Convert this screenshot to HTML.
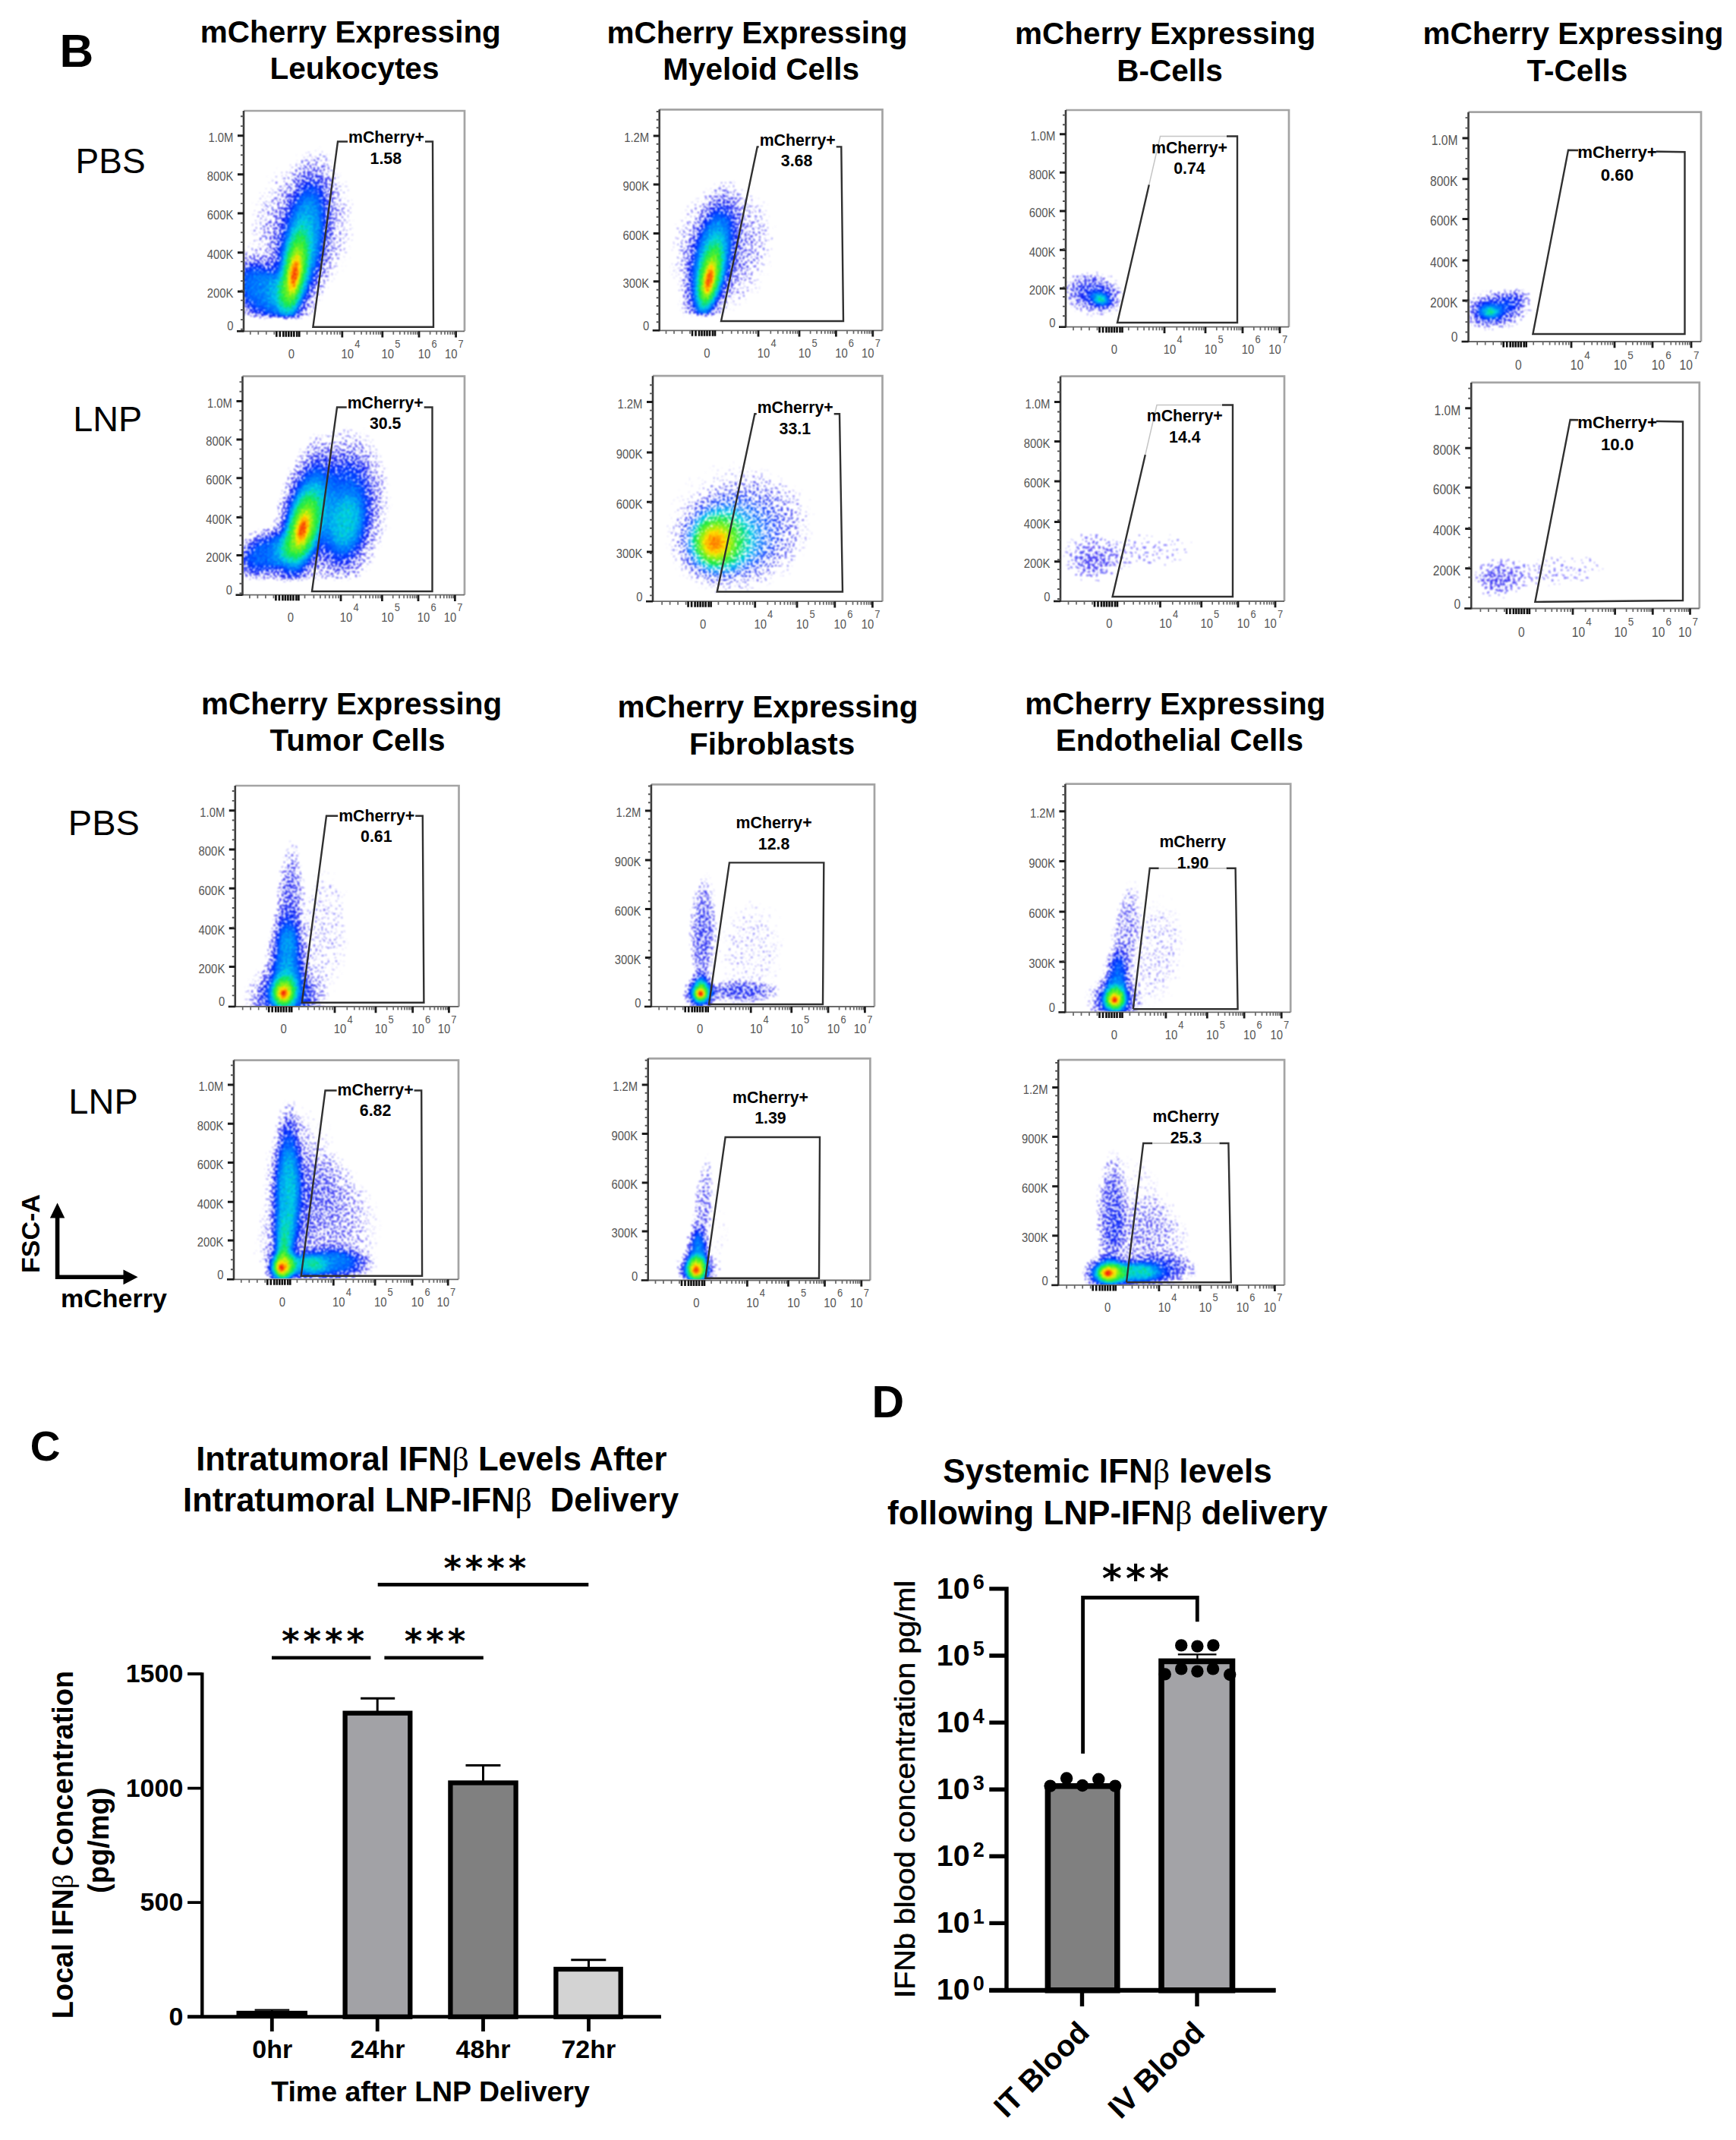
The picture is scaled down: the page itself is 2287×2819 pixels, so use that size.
<!DOCTYPE html>
<html lang="en">
<head>
<meta charset="utf-8">
<title>Figure: mCherry expression and IFNβ levels</title>
<style>html,body{margin:0;padding:0;background:#fff}svg{display:block}text{white-space:pre}</style>
</head>
<body>
<svg width="2287" height="2819" viewBox="0 0 2287 2819">
<defs>
<linearGradient id="floorg" x1="0" y1="0" x2="0" y2="1"><stop offset="0" stop-color="#000" stop-opacity="0"/><stop offset="1" stop-color="#000" stop-opacity="1"/></linearGradient>
<filter id="dens1" x="0" y="0" width="1" height="1" color-interpolation-filters="sRGB"><feTurbulence type="fractalNoise" baseFrequency="0.38" numOctaves="1" seed="3" result="n"/><feComponentTransfer in="n" result="nA"><feFuncA type="table" tableValues="0.25 0.25 0.25 0.25 0.25 0.249 0.242 0.226 0.203 0.171 0.127 0.079 0.045 0.023 0.008 0.001 0 0 0 0 0"/></feComponentTransfer><feColorMatrix in="SourceGraphic" type="matrix" values="0 0 0 0 0 0 0 0 0 0 0 0 0 0 0 0.75 0 0 0 0" result="dA"/><feComposite in="dA" in2="nA" operator="arithmetic" k1="0" k2="1" k3="1" k4="-0.262" result="m"/><feComponentTransfer in="m" result="mask"><feFuncA type="linear" slope="48" intercept="0"/></feComponentTransfer><feComposite in="SourceGraphic" in2="n" operator="arithmetic" k1="0" k2="1" k3="0.3" k4="-0.075" result="dn"/><feComponentTransfer in="dn" result="col"><feFuncR type="table" tableValues="0.45 0.25 0.08 0 0 0 0.1 0.5 1 1 0.95"/><feFuncG type="table" tableValues="0.40 0.22 0.12 0.2 0.48 0.82 0.92 0.95 0.9 0.5 0.1"/><feFuncB type="table" tableValues="1 0.95 0.95 1 1 0.9 0.3 0.1 0 0 0.05"/><feFuncA type="linear" slope="0" intercept="1"/></feComponentTransfer><feComposite in="col" in2="mask" operator="in" result="o"/><feGaussianBlur in="o" stdDeviation="0.8"/></filter>
<filter id="dens2" x="0" y="0" width="1" height="1" color-interpolation-filters="sRGB"><feTurbulence type="fractalNoise" baseFrequency="0.3" numOctaves="1" seed="11" result="n"/><feComponentTransfer in="n" result="nA"><feFuncA type="table" tableValues="0.25 0.25 0.25 0.25 0.25 0.249 0.242 0.226 0.203 0.171 0.127 0.079 0.045 0.023 0.008 0.001 0 0 0 0 0"/></feComponentTransfer><feColorMatrix in="SourceGraphic" type="matrix" values="0 0 0 0 0 0 0 0 0 0 0 0 0 0 0 1.25 0 0 0 0" result="dA"/><feComposite in="dA" in2="nA" operator="arithmetic" k1="0" k2="1" k3="1" k4="-0.256" result="m"/><feComponentTransfer in="m" result="mask"><feFuncA type="linear" slope="160" intercept="0"/></feComponentTransfer><feComposite in="SourceGraphic" in2="n" operator="arithmetic" k1="0" k2="1" k3="0.3" k4="-0.075" result="dn"/><feComponentTransfer in="dn" result="col"><feFuncR type="table" tableValues="0.45 0.25 0.08 0 0 0 0.1 0.5 1 1 0.95"/><feFuncG type="table" tableValues="0.40 0.22 0.12 0.2 0.48 0.82 0.92 0.95 0.9 0.5 0.1"/><feFuncB type="table" tableValues="1 0.95 0.95 1 1 0.9 0.3 0.1 0 0 0.05"/><feFuncA type="linear" slope="0" intercept="1"/></feComponentTransfer><feComposite in="col" in2="mask" operator="in" result="o"/><feGaussianBlur in="o" stdDeviation="0.8"/></filter>
<filter id="dens3" x="0" y="0" width="1" height="1" color-interpolation-filters="sRGB"><feTurbulence type="fractalNoise" baseFrequency="0.38" numOctaves="1" seed="7" result="n"/><feComponentTransfer in="n" result="nA"><feFuncA type="table" tableValues="0.25 0.25 0.25 0.25 0.25 0.249 0.242 0.226 0.203 0.171 0.127 0.079 0.045 0.023 0.008 0.001 0 0 0 0 0"/></feComponentTransfer><feColorMatrix in="SourceGraphic" type="matrix" values="0 0 0 0 0 0 0 0 0 0 0 0 0 0 0 0.35 0 0 0 0" result="dA"/><feComposite in="dA" in2="nA" operator="arithmetic" k1="0" k2="1" k3="1" k4="-0.254" result="m"/><feComponentTransfer in="m" result="mask"><feFuncA type="linear" slope="48" intercept="0"/></feComponentTransfer><feComposite in="SourceGraphic" in2="n" operator="arithmetic" k1="0" k2="1" k3="0.3" k4="-0.075" result="dn"/><feComponentTransfer in="dn" result="col"><feFuncR type="table" tableValues="0.45 0.25 0.08 0 0 0 0.1 0.5 1 1 0.95"/><feFuncG type="table" tableValues="0.40 0.22 0.12 0.2 0.48 0.82 0.92 0.95 0.9 0.5 0.1"/><feFuncB type="table" tableValues="1 0.95 0.95 1 1 0.9 0.3 0.1 0 0 0.05"/><feFuncA type="linear" slope="0" intercept="1"/></feComponentTransfer><feComposite in="col" in2="mask" operator="in" result="o"/><feGaussianBlur in="o" stdDeviation="0.8"/></filter>
<clipPath id="c0"><rect x="322" y="147" width="289" height="288.3"/></clipPath>
<radialGradient id="g1"><stop offset="0" stop-color="#fff" stop-opacity="0.4"/><stop offset="0.3" stop-color="#fff" stop-opacity="0.376"/><stop offset="0.45" stop-color="#fff" stop-opacity="0.32"/><stop offset="0.56" stop-color="#fff" stop-opacity="0.24"/><stop offset="0.7" stop-color="#fff" stop-opacity="0.12"/><stop offset="0.85" stop-color="#fff" stop-opacity="0.048"/><stop offset="1" stop-color="#fff" stop-opacity="0"/></radialGradient>
<radialGradient id="g2"><stop offset="0" stop-color="#fff" stop-opacity="0.92"/><stop offset="0.1" stop-color="#fff" stop-opacity="0.874"/><stop offset="0.17" stop-color="#fff" stop-opacity="0.782"/><stop offset="0.25" stop-color="#fff" stop-opacity="0.644"/><stop offset="0.35" stop-color="#fff" stop-opacity="0.478"/><stop offset="0.48" stop-color="#fff" stop-opacity="0.331"/><stop offset="0.6" stop-color="#fff" stop-opacity="0.239"/><stop offset="0.72" stop-color="#fff" stop-opacity="0.138"/><stop offset="0.85" stop-color="#fff" stop-opacity="0.055"/><stop offset="1" stop-color="#fff" stop-opacity="0"/></radialGradient>
<radialGradient id="g3"><stop offset="0" stop-color="#fff" stop-opacity="0.12"/><stop offset="0.35" stop-color="#fff" stop-opacity="0.114"/><stop offset="0.55" stop-color="#fff" stop-opacity="0.084"/><stop offset="0.7" stop-color="#fff" stop-opacity="0.05"/><stop offset="0.82" stop-color="#fff" stop-opacity="0.024"/><stop offset="0.92" stop-color="#fff" stop-opacity="0.008"/><stop offset="1" stop-color="#fff" stop-opacity="0"/></radialGradient>
<radialGradient id="g4"><stop offset="0" stop-color="#fff" stop-opacity="0.04"/><stop offset="0.35" stop-color="#fff" stop-opacity="0.038"/><stop offset="0.55" stop-color="#fff" stop-opacity="0.028"/><stop offset="0.7" stop-color="#fff" stop-opacity="0.017"/><stop offset="0.82" stop-color="#fff" stop-opacity="0.008"/><stop offset="0.92" stop-color="#fff" stop-opacity="0.003"/><stop offset="1" stop-color="#fff" stop-opacity="0"/></radialGradient>
<clipPath id="c1"><rect x="869.7" y="145.3" width="291.8" height="289"/></clipPath>
<clipPath id="c2"><rect x="1405" y="146" width="292" height="283.7"/></clipPath>
<radialGradient id="g5"><stop offset="0" stop-color="#fff" stop-opacity="0.25"/><stop offset="0.35" stop-color="#fff" stop-opacity="0.237"/><stop offset="0.55" stop-color="#fff" stop-opacity="0.175"/><stop offset="0.7" stop-color="#fff" stop-opacity="0.105"/><stop offset="0.82" stop-color="#fff" stop-opacity="0.05"/><stop offset="0.92" stop-color="#fff" stop-opacity="0.018"/><stop offset="1" stop-color="#fff" stop-opacity="0"/></radialGradient>
<radialGradient id="g6"><stop offset="0" stop-color="#fff" stop-opacity="0.42"/><stop offset="0.12" stop-color="#fff" stop-opacity="0.391"/><stop offset="0.25" stop-color="#fff" stop-opacity="0.319"/><stop offset="0.38" stop-color="#fff" stop-opacity="0.235"/><stop offset="0.5" stop-color="#fff" stop-opacity="0.16"/><stop offset="0.62" stop-color="#fff" stop-opacity="0.097"/><stop offset="0.75" stop-color="#fff" stop-opacity="0.05"/><stop offset="0.88" stop-color="#fff" stop-opacity="0.019"/><stop offset="1" stop-color="#fff" stop-opacity="0"/></radialGradient>
<clipPath id="c3"><rect x="1935.5" y="148.7" width="304.5" height="300.3"/></clipPath>
<clipPath id="c4"><rect x="320.5" y="496.7" width="290.5" height="286"/></clipPath>
<radialGradient id="g7"><stop offset="0" stop-color="#fff" stop-opacity="0.42"/><stop offset="0.3" stop-color="#fff" stop-opacity="0.395"/><stop offset="0.45" stop-color="#fff" stop-opacity="0.336"/><stop offset="0.56" stop-color="#fff" stop-opacity="0.252"/><stop offset="0.7" stop-color="#fff" stop-opacity="0.126"/><stop offset="0.85" stop-color="#fff" stop-opacity="0.05"/><stop offset="1" stop-color="#fff" stop-opacity="0"/></radialGradient>
<radialGradient id="g8"><stop offset="0" stop-color="#fff" stop-opacity="0.3"/><stop offset="0.3" stop-color="#fff" stop-opacity="0.282"/><stop offset="0.45" stop-color="#fff" stop-opacity="0.24"/><stop offset="0.56" stop-color="#fff" stop-opacity="0.18"/><stop offset="0.7" stop-color="#fff" stop-opacity="0.09"/><stop offset="0.85" stop-color="#fff" stop-opacity="0.036"/><stop offset="1" stop-color="#fff" stop-opacity="0"/></radialGradient>
<radialGradient id="g9"><stop offset="0" stop-color="#fff" stop-opacity="0.2"/><stop offset="0.3" stop-color="#fff" stop-opacity="0.188"/><stop offset="0.45" stop-color="#fff" stop-opacity="0.16"/><stop offset="0.56" stop-color="#fff" stop-opacity="0.12"/><stop offset="0.7" stop-color="#fff" stop-opacity="0.06"/><stop offset="0.85" stop-color="#fff" stop-opacity="0.024"/><stop offset="1" stop-color="#fff" stop-opacity="0"/></radialGradient>
<radialGradient id="g10"><stop offset="0" stop-color="#fff" stop-opacity="0.38"/><stop offset="0.3" stop-color="#fff" stop-opacity="0.357"/><stop offset="0.45" stop-color="#fff" stop-opacity="0.304"/><stop offset="0.56" stop-color="#fff" stop-opacity="0.228"/><stop offset="0.7" stop-color="#fff" stop-opacity="0.114"/><stop offset="0.85" stop-color="#fff" stop-opacity="0.046"/><stop offset="1" stop-color="#fff" stop-opacity="0"/></radialGradient>
<clipPath id="c5"><rect x="861" y="496.2" width="300.5" height="295"/></clipPath>
<radialGradient id="g11"><stop offset="0" stop-color="#fff" stop-opacity="0.8"/><stop offset="0.12" stop-color="#fff" stop-opacity="0.744"/><stop offset="0.25" stop-color="#fff" stop-opacity="0.608"/><stop offset="0.38" stop-color="#fff" stop-opacity="0.448"/><stop offset="0.5" stop-color="#fff" stop-opacity="0.304"/><stop offset="0.62" stop-color="#fff" stop-opacity="0.184"/><stop offset="0.75" stop-color="#fff" stop-opacity="0.096"/><stop offset="0.88" stop-color="#fff" stop-opacity="0.036"/><stop offset="1" stop-color="#fff" stop-opacity="0"/></radialGradient>
<radialGradient id="g12"><stop offset="0" stop-color="#fff" stop-opacity="0.34"/><stop offset="0.3" stop-color="#fff" stop-opacity="0.32"/><stop offset="0.45" stop-color="#fff" stop-opacity="0.272"/><stop offset="0.56" stop-color="#fff" stop-opacity="0.204"/><stop offset="0.7" stop-color="#fff" stop-opacity="0.102"/><stop offset="0.85" stop-color="#fff" stop-opacity="0.041"/><stop offset="1" stop-color="#fff" stop-opacity="0"/></radialGradient>
<radialGradient id="g13"><stop offset="0" stop-color="#fff" stop-opacity="0.1"/><stop offset="0.35" stop-color="#fff" stop-opacity="0.095"/><stop offset="0.55" stop-color="#fff" stop-opacity="0.07"/><stop offset="0.7" stop-color="#fff" stop-opacity="0.042"/><stop offset="0.82" stop-color="#fff" stop-opacity="0.02"/><stop offset="0.92" stop-color="#fff" stop-opacity="0.007"/><stop offset="1" stop-color="#fff" stop-opacity="0"/></radialGradient>
<clipPath id="c6"><rect x="1398" y="496.7" width="293" height="294.3"/></clipPath>
<radialGradient id="g14"><stop offset="0" stop-color="#fff" stop-opacity="0.075"/><stop offset="0.35" stop-color="#fff" stop-opacity="0.071"/><stop offset="0.55" stop-color="#fff" stop-opacity="0.052"/><stop offset="0.7" stop-color="#fff" stop-opacity="0.032"/><stop offset="0.82" stop-color="#fff" stop-opacity="0.015"/><stop offset="0.92" stop-color="#fff" stop-opacity="0.005"/><stop offset="1" stop-color="#fff" stop-opacity="0"/></radialGradient>
<radialGradient id="g15"><stop offset="0" stop-color="#fff" stop-opacity="0.035"/><stop offset="0.35" stop-color="#fff" stop-opacity="0.033"/><stop offset="0.55" stop-color="#fff" stop-opacity="0.025"/><stop offset="0.7" stop-color="#fff" stop-opacity="0.015"/><stop offset="0.82" stop-color="#fff" stop-opacity="0.007"/><stop offset="0.92" stop-color="#fff" stop-opacity="0.002"/><stop offset="1" stop-color="#fff" stop-opacity="0"/></radialGradient>
<clipPath id="c7"><rect x="1939.2" y="504.9" width="298.6" height="295.6"/></clipPath>
<radialGradient id="g16"><stop offset="0" stop-color="#fff" stop-opacity="0.08"/><stop offset="0.35" stop-color="#fff" stop-opacity="0.076"/><stop offset="0.55" stop-color="#fff" stop-opacity="0.056"/><stop offset="0.7" stop-color="#fff" stop-opacity="0.034"/><stop offset="0.82" stop-color="#fff" stop-opacity="0.016"/><stop offset="0.92" stop-color="#fff" stop-opacity="0.006"/><stop offset="1" stop-color="#fff" stop-opacity="0"/></radialGradient>
<clipPath id="c8"><rect x="310.8" y="1036" width="292.7" height="289"/></clipPath>
<radialGradient id="g17"><stop offset="0" stop-color="#fff" stop-opacity="1"/><stop offset="0.08" stop-color="#fff" stop-opacity="0.95"/><stop offset="0.14" stop-color="#fff" stop-opacity="0.8"/><stop offset="0.28" stop-color="#fff" stop-opacity="0.6"/><stop offset="0.36" stop-color="#fff" stop-opacity="0.5"/><stop offset="0.44" stop-color="#fff" stop-opacity="0.4"/><stop offset="0.56" stop-color="#fff" stop-opacity="0.3"/><stop offset="0.7" stop-color="#fff" stop-opacity="0.15"/><stop offset="0.85" stop-color="#fff" stop-opacity="0.06"/><stop offset="1" stop-color="#fff" stop-opacity="0"/></radialGradient>
<radialGradient id="g18"><stop offset="0" stop-color="#fff" stop-opacity="0.2"/><stop offset="0.35" stop-color="#fff" stop-opacity="0.19"/><stop offset="0.55" stop-color="#fff" stop-opacity="0.14"/><stop offset="0.7" stop-color="#fff" stop-opacity="0.084"/><stop offset="0.82" stop-color="#fff" stop-opacity="0.04"/><stop offset="0.92" stop-color="#fff" stop-opacity="0.014"/><stop offset="1" stop-color="#fff" stop-opacity="0"/></radialGradient>
<radialGradient id="g19"><stop offset="0" stop-color="#fff" stop-opacity="0.07"/><stop offset="0.35" stop-color="#fff" stop-opacity="0.067"/><stop offset="0.55" stop-color="#fff" stop-opacity="0.049"/><stop offset="0.7" stop-color="#fff" stop-opacity="0.029"/><stop offset="0.82" stop-color="#fff" stop-opacity="0.014"/><stop offset="0.92" stop-color="#fff" stop-opacity="0.005"/><stop offset="1" stop-color="#fff" stop-opacity="0"/></radialGradient>
<clipPath id="c9"><rect x="858.9" y="1034.4" width="292.1" height="290.6"/></clipPath>
<radialGradient id="g20"><stop offset="0" stop-color="#fff" stop-opacity="0.28"/><stop offset="0.12" stop-color="#fff" stop-opacity="0.26"/><stop offset="0.25" stop-color="#fff" stop-opacity="0.213"/><stop offset="0.38" stop-color="#fff" stop-opacity="0.157"/><stop offset="0.5" stop-color="#fff" stop-opacity="0.106"/><stop offset="0.62" stop-color="#fff" stop-opacity="0.064"/><stop offset="0.75" stop-color="#fff" stop-opacity="0.034"/><stop offset="0.88" stop-color="#fff" stop-opacity="0.013"/><stop offset="1" stop-color="#fff" stop-opacity="0"/></radialGradient>
<radialGradient id="g21"><stop offset="0" stop-color="#fff" stop-opacity="0.06"/><stop offset="0.35" stop-color="#fff" stop-opacity="0.057"/><stop offset="0.55" stop-color="#fff" stop-opacity="0.042"/><stop offset="0.7" stop-color="#fff" stop-opacity="0.025"/><stop offset="0.82" stop-color="#fff" stop-opacity="0.012"/><stop offset="0.92" stop-color="#fff" stop-opacity="0.004"/><stop offset="1" stop-color="#fff" stop-opacity="0"/></radialGradient>
<clipPath id="c10"><rect x="1404.4" y="1033.7" width="294.8" height="298.7"/></clipPath>
<radialGradient id="g22"><stop offset="0" stop-color="#fff" stop-opacity="0.14"/><stop offset="0.35" stop-color="#fff" stop-opacity="0.133"/><stop offset="0.55" stop-color="#fff" stop-opacity="0.098"/><stop offset="0.7" stop-color="#fff" stop-opacity="0.059"/><stop offset="0.82" stop-color="#fff" stop-opacity="0.028"/><stop offset="0.92" stop-color="#fff" stop-opacity="0.01"/><stop offset="1" stop-color="#fff" stop-opacity="0"/></radialGradient>
<clipPath id="c11"><rect x="309" y="1397.6" width="294" height="286.7"/></clipPath>
<radialGradient id="g23"><stop offset="0" stop-color="#fff" stop-opacity="0.35"/><stop offset="0.12" stop-color="#fff" stop-opacity="0.326"/><stop offset="0.25" stop-color="#fff" stop-opacity="0.266"/><stop offset="0.38" stop-color="#fff" stop-opacity="0.196"/><stop offset="0.5" stop-color="#fff" stop-opacity="0.133"/><stop offset="0.62" stop-color="#fff" stop-opacity="0.081"/><stop offset="0.75" stop-color="#fff" stop-opacity="0.042"/><stop offset="0.88" stop-color="#fff" stop-opacity="0.016"/><stop offset="1" stop-color="#fff" stop-opacity="0"/></radialGradient>
<radialGradient id="g24"><stop offset="0" stop-color="#fff" stop-opacity="0.36"/><stop offset="0.35" stop-color="#fff" stop-opacity="0.342"/><stop offset="0.55" stop-color="#fff" stop-opacity="0.252"/><stop offset="0.7" stop-color="#fff" stop-opacity="0.151"/><stop offset="0.82" stop-color="#fff" stop-opacity="0.072"/><stop offset="0.92" stop-color="#fff" stop-opacity="0.025"/><stop offset="1" stop-color="#fff" stop-opacity="0"/></radialGradient>
<radialGradient id="g25"><stop offset="0" stop-color="#fff" stop-opacity="0.3"/><stop offset="0.35" stop-color="#fff" stop-opacity="0.285"/><stop offset="0.55" stop-color="#fff" stop-opacity="0.21"/><stop offset="0.7" stop-color="#fff" stop-opacity="0.126"/><stop offset="0.82" stop-color="#fff" stop-opacity="0.06"/><stop offset="0.92" stop-color="#fff" stop-opacity="0.021"/><stop offset="1" stop-color="#fff" stop-opacity="0"/></radialGradient>
<clipPath id="c12"><rect x="854.7" y="1395.3" width="290.7" height="290.2"/></clipPath>
<radialGradient id="g26"><stop offset="0" stop-color="#fff" stop-opacity="0.36"/><stop offset="0.3" stop-color="#fff" stop-opacity="0.338"/><stop offset="0.45" stop-color="#fff" stop-opacity="0.288"/><stop offset="0.56" stop-color="#fff" stop-opacity="0.216"/><stop offset="0.7" stop-color="#fff" stop-opacity="0.108"/><stop offset="0.85" stop-color="#fff" stop-opacity="0.043"/><stop offset="1" stop-color="#fff" stop-opacity="0"/></radialGradient>
<clipPath id="c13"><rect x="1395.2" y="1397.1" width="295.9" height="294.8"/></clipPath>
<radialGradient id="g27"><stop offset="0" stop-color="#fff" stop-opacity="0.22"/><stop offset="0.35" stop-color="#fff" stop-opacity="0.209"/><stop offset="0.55" stop-color="#fff" stop-opacity="0.154"/><stop offset="0.7" stop-color="#fff" stop-opacity="0.092"/><stop offset="0.82" stop-color="#fff" stop-opacity="0.044"/><stop offset="0.92" stop-color="#fff" stop-opacity="0.015"/><stop offset="1" stop-color="#fff" stop-opacity="0"/></radialGradient>
<radialGradient id="g28"><stop offset="0" stop-color="#fff" stop-opacity="0.05"/><stop offset="0.35" stop-color="#fff" stop-opacity="0.048"/><stop offset="0.55" stop-color="#fff" stop-opacity="0.035"/><stop offset="0.7" stop-color="#fff" stop-opacity="0.021"/><stop offset="0.82" stop-color="#fff" stop-opacity="0.01"/><stop offset="0.92" stop-color="#fff" stop-opacity="0.004"/><stop offset="1" stop-color="#fff" stop-opacity="0"/></radialGradient>
</defs>
<rect width="2287" height="2819" fill="#fff"/>
<text x="78.5" y="88.4" font-family='"Liberation Sans", Arial, Helvetica, sans-serif' font-size="62" font-weight="bold" text-anchor="start" fill="#000">B</text>
<text x="39.8" y="1923.7" font-family='"Liberation Sans", Arial, Helvetica, sans-serif' font-size="55" font-weight="bold" text-anchor="start" fill="#000">C</text>
<text x="1148.4" y="1867" font-family='"Liberation Sans", Arial, Helvetica, sans-serif' font-size="59" font-weight="bold" text-anchor="start" fill="#000">D</text>
<text x="461.8" y="55.8" font-family='"Liberation Sans", Arial, Helvetica, sans-serif' font-size="40.5" font-weight="bold" text-anchor="middle" fill="#000">mCherry Expressing</text>
<text x="467" y="104.1" font-family='"Liberation Sans", Arial, Helvetica, sans-serif' font-size="40.5" font-weight="bold" text-anchor="middle" fill="#000">Leukocytes</text>
<text x="997.5" y="56.6" font-family='"Liberation Sans", Arial, Helvetica, sans-serif' font-size="40.5" font-weight="bold" text-anchor="middle" fill="#000">mCherry Expressing</text>
<text x="1002.6" y="105.4" font-family='"Liberation Sans", Arial, Helvetica, sans-serif' font-size="40.5" font-weight="bold" text-anchor="middle" fill="#000">Myeloid Cells</text>
<text x="1535.2" y="58.3" font-family='"Liberation Sans", Arial, Helvetica, sans-serif' font-size="40.5" font-weight="bold" text-anchor="middle" fill="#000">mCherry Expressing</text>
<text x="1541.1" y="107.1" font-family='"Liberation Sans", Arial, Helvetica, sans-serif' font-size="40.5" font-weight="bold" text-anchor="middle" fill="#000">B-Cells</text>
<text x="2072.5" y="58.3" font-family='"Liberation Sans", Arial, Helvetica, sans-serif' font-size="40.5" font-weight="bold" text-anchor="middle" fill="#000">mCherry Expressing</text>
<text x="2077.8" y="107.1" font-family='"Liberation Sans", Arial, Helvetica, sans-serif' font-size="40.5" font-weight="bold" text-anchor="middle" fill="#000">T-Cells</text>
<text x="463.2" y="940.8" font-family='"Liberation Sans", Arial, Helvetica, sans-serif' font-size="40.5" font-weight="bold" text-anchor="middle" fill="#000">mCherry Expressing</text>
<text x="471.1" y="989.1" font-family='"Liberation Sans", Arial, Helvetica, sans-serif' font-size="40.5" font-weight="bold" text-anchor="middle" fill="#000">Tumor Cells</text>
<text x="1011.5" y="945" font-family='"Liberation Sans", Arial, Helvetica, sans-serif' font-size="40.5" font-weight="bold" text-anchor="middle" fill="#000">mCherry Expressing</text>
<text x="1017.1" y="993.5" font-family='"Liberation Sans", Arial, Helvetica, sans-serif' font-size="40.5" font-weight="bold" text-anchor="middle" fill="#000">Fibroblasts</text>
<text x="1548.3" y="940.8" font-family='"Liberation Sans", Arial, Helvetica, sans-serif' font-size="40.5" font-weight="bold" text-anchor="middle" fill="#000">mCherry Expressing</text>
<text x="1553.9" y="989.1" font-family='"Liberation Sans", Arial, Helvetica, sans-serif' font-size="40.5" font-weight="bold" text-anchor="middle" fill="#000">Endothelial Cells</text>
<text x="99.6" y="228.2" font-family='"Liberation Sans", Arial, Helvetica, sans-serif' font-size="46" font-weight="normal" text-anchor="start" fill="#000">PBS</text>
<text x="96.3" y="567.9" font-family='"Liberation Sans", Arial, Helvetica, sans-serif' font-size="46.8" font-weight="normal" text-anchor="start" fill="#000">LNP</text>
<text x="89.8" y="1099.8" font-family='"Liberation Sans", Arial, Helvetica, sans-serif' font-size="47" font-weight="normal" text-anchor="start" fill="#000">PBS</text>
<text x="90.3" y="1467" font-family='"Liberation Sans", Arial, Helvetica, sans-serif' font-size="47" font-weight="normal" text-anchor="start" fill="#000">LNP</text>
<path d="M75.6 1600V1682.2H166" fill="none" stroke="#000" stroke-width="5.6"/>
<path d="M75.6 1584.5L85.3 1604.6H65.9Z M181.6 1682.3L162.5 1692.2V1672.6Z" fill="#000"/>
<text transform="translate(52.4 1677) rotate(-90)" font-family='"Liberation Sans", Arial, Helvetica, sans-serif' font-size="34" font-weight="bold">FSC-A</text>
<text x="80" y="1721.9" font-family='"Liberation Sans", Arial, Helvetica, sans-serif' font-size="34" font-weight="bold" text-anchor="start" fill="#000">mCherry</text>
<g clip-path="url(#c0)"><g filter="url(#dens1)">
<rect x="317" y="142" width="299" height="298.3" fill="#000"/>
<ellipse cx="396" cy="333" rx="44" ry="150" fill="url(#g1)" transform="rotate(10.6 396 333)"/>
<ellipse cx="388" cy="361" rx="23" ry="80" fill="url(#g2)" transform="rotate(9 388 361)"/>
<ellipse cx="397" cy="303" rx="80" ry="115" fill="url(#g3)" transform="rotate(12 397 303)"/>
<ellipse cx="400" cy="300" rx="96" ry="126" fill="url(#g4)" transform="rotate(12 400 300)"/>
<ellipse cx="343" cy="383" rx="48" ry="67" fill="url(#g1)" transform="rotate(-40 343 383)"/>
<rect x="317" y="415" width="299" height="7" fill="url(#floorg)"/><rect x="317" y="421" width="299" height="21.3" fill="#000"/>
</g></g>
<path d="M321 146H612V436.3" fill="none" stroke="#a4a4a4" stroke-width="2.7"/>
<path d="M321 436.3H612" fill="none" stroke="#6a6a6a" stroke-width="1.8"/>
<path d="M321 146V437.2" fill="none" stroke="#3c3c3c" stroke-width="2.6"/>
<path d="M313 178.8H321M313 229.8H321M313 280.9H321M313 332.8H321M313 383.9H321" stroke="#1c1c1c" stroke-width="3" fill="none"/>
<path d="M312 436.3H321" stroke="#1c1c1c" stroke-width="2.6" fill="none"/>
<path d="M317 153.3H321M317 166.1H321M317 191.6H321M317 204.3H321M317 217.1H321M317 242.6H321M317 255.3H321M317 268.1H321M317 293.6H321M317 306.3H321M317 319.1H321M317 344.6H321M317 357.3H321M317 370.1H321M317 382.8H321M317 395.6H321M317 408.3H321M317 421.1H321M317 433.8H321" stroke="#555" stroke-width="1.9" fill="none"/>
<text transform="translate(307.5 187.1) scale(0.89 1)" font-family='"Liberation Sans", Arial, Helvetica, sans-serif' font-size="16.7" text-anchor="end" fill="#555">1.0M</text>
<text transform="translate(307.5 238.1) scale(0.89 1)" font-family='"Liberation Sans", Arial, Helvetica, sans-serif' font-size="16.7" text-anchor="end" fill="#555">800K</text>
<text transform="translate(307.5 289.2) scale(0.89 1)" font-family='"Liberation Sans", Arial, Helvetica, sans-serif' font-size="16.7" text-anchor="end" fill="#555">600K</text>
<text transform="translate(307.5 341.1) scale(0.89 1)" font-family='"Liberation Sans", Arial, Helvetica, sans-serif' font-size="16.7" text-anchor="end" fill="#555">400K</text>
<text transform="translate(307.5 392.2) scale(0.89 1)" font-family='"Liberation Sans", Arial, Helvetica, sans-serif' font-size="16.7" text-anchor="end" fill="#555">200K</text>
<text transform="translate(307.5 435.3) scale(0.89 1)" font-family='"Liberation Sans", Arial, Helvetica, sans-serif' font-size="16.7" text-anchor="end" fill="#555">0</text>
<path d="M450.8 436.3V444.5M503.8 436.3V444.5M552 436.3V444.5M600.6 436.3V444.5" stroke="#1c1c1c" stroke-width="2.8" fill="none"/>
<path d="M404.5 436.3V440.8M416.2 436.3V440.8M424.4 436.3V440.8M430.9 436.3V440.8M436.1 436.3V440.8M440.5 436.3V440.8M444.4 436.3V440.8M447.8 436.3V440.8M466.8 436.3V440.8M476.1 436.3V440.8M482.7 436.3V440.8M487.8 436.3V440.8M492 436.3V440.8M495.6 436.3V440.8M498.7 436.3V440.8M501.4 436.3V440.8M518.3 436.3V440.8M526.8 436.3V440.8M532.8 436.3V440.8M537.5 436.3V440.8M541.3 436.3V440.8M544.5 436.3V440.8M547.3 436.3V440.8M549.8 436.3V440.8M566.6 436.3V440.8M575.2 436.3V440.8M581.3 436.3V440.8M586 436.3V440.8M589.8 436.3V440.8M593.1 436.3V440.8M595.9 436.3V440.8M598.4 436.3V440.8M361.3 436.3V440.8M350.8 436.3V440.8M340.3 436.3V440.8M329.8 436.3V440.8" stroke="#666" stroke-width="1.7" fill="none"/>
<path d="M364.3 436.3V443.8M368.8 436.3V443.8M373.3 436.3V443.8M376.8 436.3V443.8M380.3 436.3V443.8M383.8 436.3V443.8M387.3 436.3V443.8M391.3 436.3V443.8M394.3 436.3V443.8" stroke="#111" stroke-width="2.6" fill="none"/>
<text transform="translate(383.8 471.6) scale(0.89 1)" font-family='"Liberation Sans", Arial, Helvetica, sans-serif' font-size="16.7" text-anchor="middle" fill="#555">0</text>
<text transform="translate(449.6 471.6) scale(0.89 1)" font-family='"Liberation Sans", Arial, Helvetica, sans-serif' font-size="16.7" text-anchor="start" fill="#555">10<tspan dy="-13.8" dx="1.2" font-size="14.5">4</tspan></text>
<text transform="translate(502.6 471.6) scale(0.89 1)" font-family='"Liberation Sans", Arial, Helvetica, sans-serif' font-size="16.7" text-anchor="start" fill="#555">10<tspan dy="-13.8" dx="1.2" font-size="14.5">5</tspan></text>
<text transform="translate(550.8 471.6) scale(0.89 1)" font-family='"Liberation Sans", Arial, Helvetica, sans-serif' font-size="16.7" text-anchor="start" fill="#555">10<tspan dy="-13.8" dx="1.2" font-size="14.5">6</tspan></text>
<text transform="translate(585.9 471.6) scale(0.89 1)" font-family='"Liberation Sans", Arial, Helvetica, sans-serif' font-size="16.7" text-anchor="start" fill="#555">10<tspan dy="-13.8" dx="1.2" font-size="14.5">7</tspan></text>
<polygon points="412.4,430.7 445,186.5 570,186.5 571,430.7" fill="none" stroke="#303030" stroke-width="2.4" stroke-linejoin="miter"/>
<rect x="458" y="171.8" width="102" height="19.6" fill="#fff"/>
<text x="509" y="187.8" font-family='"Liberation Sans", Arial, Helvetica, sans-serif' font-size="21.3" font-weight="bold" text-anchor="middle" fill="#000">mCherry+</text>
<text x="508.3" y="215.7" font-family='"Liberation Sans", Arial, Helvetica, sans-serif' font-size="21.3" font-weight="bold" text-anchor="middle" fill="#000">1.58</text>
<g clip-path="url(#c1)"><g filter="url(#dens1)">
<rect x="864.7" y="140.3" width="301.8" height="299" fill="#000"/>
<ellipse cx="936.7" cy="346.6" rx="40" ry="118" fill="url(#g1)" transform="rotate(12 936.7 346.6)"/>
<ellipse cx="934.3" cy="368" rx="21" ry="68" fill="url(#g2)" transform="rotate(11 934.3 368)"/>
<ellipse cx="950" cy="328" rx="78" ry="104" fill="url(#g3)" transform="rotate(15 950 328)"/>
<ellipse cx="955" cy="325" rx="92" ry="112" fill="url(#g4)" transform="rotate(15 955 325)"/>
<rect x="864.7" y="412" width="301.8" height="7" fill="url(#floorg)"/><rect x="864.7" y="418" width="301.8" height="23.3" fill="#000"/>
</g></g>
<path d="M868.7 144.3H1162.5V435.3" fill="none" stroke="#a4a4a4" stroke-width="2.7"/>
<path d="M868.7 435.3H1162.5" fill="none" stroke="#6a6a6a" stroke-width="1.8"/>
<path d="M868.7 144.3V436.2" fill="none" stroke="#3c3c3c" stroke-width="2.6"/>
<path d="M860.7 179H868.7M860.7 243H868.7M860.7 307.4H868.7M860.7 370.8H868.7" stroke="#1c1c1c" stroke-width="3" fill="none"/>
<path d="M859.7 435.3H868.7" stroke="#1c1c1c" stroke-width="2.6" fill="none"/>
<path d="M864.7 147H868.7M864.7 157.7H868.7M864.7 168.3H868.7M864.7 189.7H868.7M864.7 200.3H868.7M864.7 211H868.7M864.7 221.7H868.7M864.7 232.3H868.7M864.7 253.7H868.7M864.7 264.3H868.7M864.7 275H868.7M864.7 285.7H868.7M864.7 296.3H868.7M864.7 317.7H868.7M864.7 328.3H868.7M864.7 339H868.7M864.7 349.7H868.7M864.7 360.3H868.7M864.7 381.7H868.7M864.7 392.3H868.7M864.7 403H868.7M864.7 413.7H868.7M864.7 424.3H868.7" stroke="#555" stroke-width="1.9" fill="none"/>
<text transform="translate(855.2 187.3) scale(0.89 1)" font-family='"Liberation Sans", Arial, Helvetica, sans-serif' font-size="16.7" text-anchor="end" fill="#555">1.2M</text>
<text transform="translate(855.2 251.3) scale(0.89 1)" font-family='"Liberation Sans", Arial, Helvetica, sans-serif' font-size="16.7" text-anchor="end" fill="#555">900K</text>
<text transform="translate(855.2 315.7) scale(0.89 1)" font-family='"Liberation Sans", Arial, Helvetica, sans-serif' font-size="16.7" text-anchor="end" fill="#555">600K</text>
<text transform="translate(855.2 379.1) scale(0.89 1)" font-family='"Liberation Sans", Arial, Helvetica, sans-serif' font-size="16.7" text-anchor="end" fill="#555">300K</text>
<text transform="translate(855.2 435.3) scale(0.89 1)" font-family='"Liberation Sans", Arial, Helvetica, sans-serif' font-size="16.7" text-anchor="end" fill="#555">0</text>
<path d="M999 435.3V443.5M1053 435.3V443.5M1101.4 435.3V443.5M1149.8 435.3V443.5" stroke="#1c1c1c" stroke-width="2.8" fill="none"/>
<path d="M951.8 435.3V439.8M963.7 435.3V439.8M972.1 435.3V439.8M978.7 435.3V439.8M984 435.3V439.8M988.5 435.3V439.8M992.5 435.3V439.8M995.9 435.3V439.8M1015.3 435.3V439.8M1024.8 435.3V439.8M1031.5 435.3V439.8M1036.7 435.3V439.8M1041 435.3V439.8M1044.6 435.3V439.8M1047.8 435.3V439.8M1050.5 435.3V439.8M1067.6 435.3V439.8M1076.1 435.3V439.8M1082.1 435.3V439.8M1086.8 435.3V439.8M1090.7 435.3V439.8M1093.9 435.3V439.8M1096.7 435.3V439.8M1099.2 435.3V439.8M1116 435.3V439.8M1124.5 435.3V439.8M1130.5 435.3V439.8M1135.2 435.3V439.8M1139.1 435.3V439.8M1142.3 435.3V439.8M1145.1 435.3V439.8M1147.6 435.3V439.8M909 435.3V439.8M898.5 435.3V439.8M888 435.3V439.8M877.5 435.3V439.8" stroke="#666" stroke-width="1.7" fill="none"/>
<path d="M912 435.3V442.8M916.5 435.3V442.8M921 435.3V442.8M924.5 435.3V442.8M928 435.3V442.8M931.5 435.3V442.8M935 435.3V442.8M939 435.3V442.8M942 435.3V442.8" stroke="#111" stroke-width="2.6" fill="none"/>
<text transform="translate(931.5 470.6) scale(0.89 1)" font-family='"Liberation Sans", Arial, Helvetica, sans-serif' font-size="16.7" text-anchor="middle" fill="#555">0</text>
<text transform="translate(997.8 470.6) scale(0.89 1)" font-family='"Liberation Sans", Arial, Helvetica, sans-serif' font-size="16.7" text-anchor="start" fill="#555">10<tspan dy="-13.8" dx="1.2" font-size="14.5">4</tspan></text>
<text transform="translate(1051.8 470.6) scale(0.89 1)" font-family='"Liberation Sans", Arial, Helvetica, sans-serif' font-size="16.7" text-anchor="start" fill="#555">10<tspan dy="-13.8" dx="1.2" font-size="14.5">5</tspan></text>
<text transform="translate(1100.2 470.6) scale(0.89 1)" font-family='"Liberation Sans", Arial, Helvetica, sans-serif' font-size="16.7" text-anchor="start" fill="#555">10<tspan dy="-13.8" dx="1.2" font-size="14.5">6</tspan></text>
<text transform="translate(1135.1 470.6) scale(0.89 1)" font-family='"Liberation Sans", Arial, Helvetica, sans-serif' font-size="16.7" text-anchor="start" fill="#555">10<tspan dy="-13.8" dx="1.2" font-size="14.5">7</tspan></text>
<polygon points="950,423 997.7,193.4 1108.3,193.4 1111,423" fill="none" stroke="#303030" stroke-width="2.4" stroke-linejoin="miter"/>
<rect x="999.7" y="176.4" width="102" height="19.6" fill="#fff"/>
<text x="1050.7" y="192.4" font-family='"Liberation Sans", Arial, Helvetica, sans-serif' font-size="21.3" font-weight="bold" text-anchor="middle" fill="#000">mCherry+</text>
<text x="1049.6" y="219.2" font-family='"Liberation Sans", Arial, Helvetica, sans-serif' font-size="21.3" font-weight="bold" text-anchor="middle" fill="#000">3.68</text>
<g clip-path="url(#c2)"><g filter="url(#dens1)">
<rect x="1400" y="141" width="302" height="293.7" fill="#000"/>
<ellipse cx="1441" cy="387" rx="50" ry="34" fill="url(#g5)" transform="rotate(8 1441 387)"/>
<ellipse cx="1450" cy="394" rx="24" ry="16" fill="url(#g6)" transform="rotate(20 1450 394)"/>
</g></g>
<path d="M1404 145H1698V430.7" fill="none" stroke="#a4a4a4" stroke-width="2.7"/>
<path d="M1404 430.7H1698" fill="none" stroke="#6a6a6a" stroke-width="1.8"/>
<path d="M1404 145V431.6" fill="none" stroke="#3c3c3c" stroke-width="2.6"/>
<path d="M1396 176.8H1404M1396 227.2H1404M1396 278H1404M1396 329.3H1404M1396 380H1404" stroke="#1c1c1c" stroke-width="3" fill="none"/>
<path d="M1395 430.7H1404" stroke="#1c1c1c" stroke-width="2.6" fill="none"/>
<path d="M1400 151.6H1404M1400 164.2H1404M1400 189.4H1404M1400 202H1404M1400 214.6H1404M1400 239.8H1404M1400 252.4H1404M1400 265H1404M1400 290.2H1404M1400 302.8H1404M1400 315.4H1404M1400 328H1404M1400 340.6H1404M1400 353.2H1404M1400 365.8H1404M1400 378.4H1404M1400 391H1404M1400 403.6H1404M1400 416.2H1404" stroke="#555" stroke-width="1.9" fill="none"/>
<text transform="translate(1390.5 185.1) scale(0.89 1)" font-family='"Liberation Sans", Arial, Helvetica, sans-serif' font-size="16.7" text-anchor="end" fill="#555">1.0M</text>
<text transform="translate(1390.5 235.5) scale(0.89 1)" font-family='"Liberation Sans", Arial, Helvetica, sans-serif' font-size="16.7" text-anchor="end" fill="#555">800K</text>
<text transform="translate(1390.5 286.3) scale(0.89 1)" font-family='"Liberation Sans", Arial, Helvetica, sans-serif' font-size="16.7" text-anchor="end" fill="#555">600K</text>
<text transform="translate(1390.5 337.6) scale(0.89 1)" font-family='"Liberation Sans", Arial, Helvetica, sans-serif' font-size="16.7" text-anchor="end" fill="#555">400K</text>
<text transform="translate(1390.5 388.3) scale(0.89 1)" font-family='"Liberation Sans", Arial, Helvetica, sans-serif' font-size="16.7" text-anchor="end" fill="#555">200K</text>
<text transform="translate(1390.5 430.8) scale(0.89 1)" font-family='"Liberation Sans", Arial, Helvetica, sans-serif' font-size="16.7" text-anchor="end" fill="#555">0</text>
<path d="M1534 430.7V438.9M1588 430.7V438.9M1637 430.7V438.9M1686 430.7V438.9" stroke="#1c1c1c" stroke-width="2.8" fill="none"/>
<path d="M1486.8 430.7V435.2M1498.7 430.7V435.2M1507.1 430.7V435.2M1513.7 430.7V435.2M1519 430.7V435.2M1523.5 430.7V435.2M1527.5 430.7V435.2M1530.9 430.7V435.2M1550.3 430.7V435.2M1559.8 430.7V435.2M1566.5 430.7V435.2M1571.7 430.7V435.2M1576 430.7V435.2M1579.6 430.7V435.2M1582.8 430.7V435.2M1585.5 430.7V435.2M1602.8 430.7V435.2M1611.4 430.7V435.2M1617.5 430.7V435.2M1622.2 430.7V435.2M1626.1 430.7V435.2M1629.4 430.7V435.2M1632.3 430.7V435.2M1634.8 430.7V435.2M1651.8 430.7V435.2M1660.4 430.7V435.2M1666.5 430.7V435.2M1671.2 430.7V435.2M1675.1 430.7V435.2M1678.4 430.7V435.2M1681.3 430.7V435.2M1683.8 430.7V435.2M1445.5 430.7V435.2M1435 430.7V435.2M1424.5 430.7V435.2M1414 430.7V435.2" stroke="#666" stroke-width="1.7" fill="none"/>
<path d="M1448.5 430.7V438.2M1453 430.7V438.2M1457.5 430.7V438.2M1461 430.7V438.2M1464.5 430.7V438.2M1468 430.7V438.2M1471.5 430.7V438.2M1475.5 430.7V438.2M1478.5 430.7V438.2" stroke="#111" stroke-width="2.6" fill="none"/>
<text transform="translate(1468 466) scale(0.89 1)" font-family='"Liberation Sans", Arial, Helvetica, sans-serif' font-size="16.7" text-anchor="middle" fill="#555">0</text>
<text transform="translate(1532.8 466) scale(0.89 1)" font-family='"Liberation Sans", Arial, Helvetica, sans-serif' font-size="16.7" text-anchor="start" fill="#555">10<tspan dy="-13.8" dx="1.2" font-size="14.5">4</tspan></text>
<text transform="translate(1586.8 466) scale(0.89 1)" font-family='"Liberation Sans", Arial, Helvetica, sans-serif' font-size="16.7" text-anchor="start" fill="#555">10<tspan dy="-13.8" dx="1.2" font-size="14.5">5</tspan></text>
<text transform="translate(1635.8 466) scale(0.89 1)" font-family='"Liberation Sans", Arial, Helvetica, sans-serif' font-size="16.7" text-anchor="start" fill="#555">10<tspan dy="-13.8" dx="1.2" font-size="14.5">6</tspan></text>
<text transform="translate(1671.3 466) scale(0.89 1)" font-family='"Liberation Sans", Arial, Helvetica, sans-serif' font-size="16.7" text-anchor="start" fill="#555">10<tspan dy="-13.8" dx="1.2" font-size="14.5">7</tspan></text>
<path d="M1513.8 243.3L1472 425L1630 425L1630 179.5L1616 179.5" fill="none" stroke="#303030" stroke-width="2.4"/>
<path d="M1513.8 243.3L1528.5 179.5L1616 179.5" fill="none" stroke="#c4c4c4" stroke-width="1.5"/>
<text x="1567" y="201.6" font-family='"Liberation Sans", Arial, Helvetica, sans-serif' font-size="21.3" font-weight="bold" text-anchor="middle" fill="#000">mCherry+</text>
<text x="1567" y="229.3" font-family='"Liberation Sans", Arial, Helvetica, sans-serif' font-size="21.3" font-weight="bold" text-anchor="middle" fill="#000">0.74</text>
<g clip-path="url(#c3)"><g filter="url(#dens1)">
<rect x="1930.5" y="143.7" width="314.5" height="310.3" fill="#000"/>
<ellipse cx="1970" cy="408" rx="56" ry="32" fill="url(#g5)" transform="rotate(-8 1970 408)"/>
<ellipse cx="1995" cy="395" rx="30" ry="18" fill="url(#g3)" transform="rotate(-25 1995 395)"/>
<ellipse cx="1963.5" cy="410.5" rx="28" ry="18" fill="url(#g6)"/>
</g></g>
<path d="M1934.5 147.7H2241V450" fill="none" stroke="#a4a4a4" stroke-width="2.7"/>
<path d="M1934.5 450H2241" fill="none" stroke="#6a6a6a" stroke-width="1.8"/>
<path d="M1934.5 147.7V450.9" fill="none" stroke="#3c3c3c" stroke-width="2.6"/>
<path d="M1926.5 182H1934.5M1926.5 235.8H1934.5M1926.5 288.6H1934.5M1926.5 343H1934.5M1926.5 396H1934.5" stroke="#1c1c1c" stroke-width="3" fill="none"/>
<path d="M1925.5 450H1934.5" stroke="#1c1c1c" stroke-width="2.6" fill="none"/>
<path d="M1930.5 155.1H1934.5M1930.5 168.6H1934.5M1930.5 195.4H1934.5M1930.5 208.9H1934.5M1930.5 222.3H1934.5M1930.5 249.2H1934.5M1930.5 262.7H1934.5M1930.5 276.1H1934.5M1930.5 303H1934.5M1930.5 316.5H1934.5M1930.5 329.9H1934.5M1930.5 356.8H1934.5M1930.5 370.3H1934.5M1930.5 383.7H1934.5M1930.5 397.2H1934.5M1930.5 410.6H1934.5M1930.5 424.1H1934.5M1930.5 437.5H1934.5" stroke="#555" stroke-width="1.9" fill="none"/>
<text transform="translate(1920.4 190.7) scale(0.89 1)" font-family='"Liberation Sans", Arial, Helvetica, sans-serif' font-size="17.5" text-anchor="end" fill="#555">1.0M</text>
<text transform="translate(1920.4 244.5) scale(0.89 1)" font-family='"Liberation Sans", Arial, Helvetica, sans-serif' font-size="17.5" text-anchor="end" fill="#555">800K</text>
<text transform="translate(1920.4 297.3) scale(0.89 1)" font-family='"Liberation Sans", Arial, Helvetica, sans-serif' font-size="17.5" text-anchor="end" fill="#555">600K</text>
<text transform="translate(1920.4 351.7) scale(0.89 1)" font-family='"Liberation Sans", Arial, Helvetica, sans-serif' font-size="17.5" text-anchor="end" fill="#555">400K</text>
<text transform="translate(1920.4 404.7) scale(0.89 1)" font-family='"Liberation Sans", Arial, Helvetica, sans-serif' font-size="17.5" text-anchor="end" fill="#555">200K</text>
<text transform="translate(1920.4 449.7) scale(0.89 1)" font-family='"Liberation Sans", Arial, Helvetica, sans-serif' font-size="17.5" text-anchor="end" fill="#555">0</text>
<path d="M2070 450V458.2M2127 450V458.2M2177 450V458.2M2228 450V458.2" stroke="#1c1c1c" stroke-width="2.8" fill="none"/>
<path d="M2020.2 450V454.5M2032.7 450V454.5M2041.6 450V454.5M2048.6 450V454.5M2054.2 450V454.5M2059 450V454.5M2063.1 450V454.5M2066.7 450V454.5M2087.2 450V454.5M2097.2 450V454.5M2104.3 450V454.5M2109.8 450V454.5M2114.4 450V454.5M2118.2 450V454.5M2121.5 450V454.5M2124.4 450V454.5M2142.1 450V454.5M2150.9 450V454.5M2157.1 450V454.5M2161.9 450V454.5M2165.9 450V454.5M2169.3 450V454.5M2172.2 450V454.5M2174.7 450V454.5M2192.4 450V454.5M2201.3 450V454.5M2207.7 450V454.5M2212.6 450V454.5M2216.7 450V454.5M2220.1 450V454.5M2223.1 450V454.5M2225.7 450V454.5M1977.7 450V454.5M1967.2 450V454.5M1956.7 450V454.5M1946.2 450V454.5" stroke="#666" stroke-width="1.7" fill="none"/>
<path d="M1980.7 450V457.5M1985.2 450V457.5M1989.7 450V457.5M1993.2 450V457.5M1996.7 450V457.5M2000.2 450V457.5M2003.7 450V457.5M2007.7 450V457.5M2010.7 450V457.5" stroke="#111" stroke-width="2.6" fill="none"/>
<text transform="translate(2000.2 487) scale(0.89 1)" font-family='"Liberation Sans", Arial, Helvetica, sans-serif' font-size="17.5" text-anchor="middle" fill="#555">0</text>
<text transform="translate(2068.8 487) scale(0.89 1)" font-family='"Liberation Sans", Arial, Helvetica, sans-serif' font-size="17.5" text-anchor="start" fill="#555">10<tspan dy="-14.5" dx="1.2" font-size="15.2">4</tspan></text>
<text transform="translate(2125.8 487) scale(0.89 1)" font-family='"Liberation Sans", Arial, Helvetica, sans-serif' font-size="17.5" text-anchor="start" fill="#555">10<tspan dy="-14.5" dx="1.2" font-size="15.2">5</tspan></text>
<text transform="translate(2175.8 487) scale(0.89 1)" font-family='"Liberation Sans", Arial, Helvetica, sans-serif' font-size="17.5" text-anchor="start" fill="#555">10<tspan dy="-14.5" dx="1.2" font-size="15.2">6</tspan></text>
<text transform="translate(2212.6 487) scale(0.89 1)" font-family='"Liberation Sans", Arial, Helvetica, sans-serif' font-size="17.5" text-anchor="start" fill="#555">10<tspan dy="-14.5" dx="1.2" font-size="15.2">7</tspan></text>
<polygon points="2019.4,440 2066,197.8 2219.5,200.2 2219.5,440" fill="none" stroke="#303030" stroke-width="2.4" stroke-linejoin="miter"/>
<rect x="2079.1" y="195.8" width="102.8" height="6" fill="#fff"/>
<text x="2130.5" y="208.2" font-family='"Liberation Sans", Arial, Helvetica, sans-serif' font-size="22.3" font-weight="bold" text-anchor="middle" fill="#000">mCherry+</text>
<text x="2130.4" y="238" font-family='"Liberation Sans", Arial, Helvetica, sans-serif' font-size="22.3" font-weight="bold" text-anchor="middle" fill="#000">0.60</text>
<g clip-path="url(#c4)"><g filter="url(#dens1)">
<rect x="315.5" y="491.7" width="300.5" height="296" fill="#000"/>
<ellipse cx="399" cy="689.6" rx="42" ry="128" fill="url(#g7)" transform="rotate(12.7 399 689.6)"/>
<ellipse cx="398.5" cy="697" rx="27" ry="66" fill="url(#g2)" transform="rotate(12 398.5 697)"/>
<ellipse cx="454" cy="676" rx="58" ry="120" fill="url(#g8)" transform="rotate(6 454 676)"/>
<ellipse cx="456" cy="690" rx="34" ry="60" fill="url(#g9)" transform="rotate(8 456 690)"/>
<ellipse cx="443" cy="664" rx="92" ry="124" fill="url(#g3)" transform="rotate(10 443 664)"/>
<ellipse cx="350" cy="730" rx="58" ry="40" fill="url(#g10)" transform="rotate(-28 350 730)"/>
<rect x="315.5" y="761" width="300.5" height="7" fill="url(#floorg)"/><rect x="315.5" y="767" width="300.5" height="22.7" fill="#000"/>
</g></g>
<path d="M319.5 495.7H612V783.7" fill="none" stroke="#a4a4a4" stroke-width="2.7"/>
<path d="M319.5 783.7H612" fill="none" stroke="#6a6a6a" stroke-width="1.8"/>
<path d="M319.5 495.7V784.6" fill="none" stroke="#3c3c3c" stroke-width="2.6"/>
<path d="M311.5 528.4H319.5M311.5 579H319.5M311.5 629.8H319.5M311.5 681.6H319.5M311.5 731.6H319.5" stroke="#1c1c1c" stroke-width="3" fill="none"/>
<path d="M310.5 783.7H319.5" stroke="#1c1c1c" stroke-width="2.6" fill="none"/>
<path d="M315.5 503.1H319.5M315.5 515.8H319.5M315.5 541H319.5M315.5 553.7H319.5M315.5 566.3H319.5M315.5 591.6H319.5M315.5 604.3H319.5M315.5 616.9H319.5M315.5 642.2H319.5M315.5 654.9H319.5M315.5 667.5H319.5M315.5 680.2H319.5M315.5 692.8H319.5M315.5 705.5H319.5M315.5 718.1H319.5M315.5 743.4H319.5M315.5 756.1H319.5M315.5 768.7H319.5M315.5 781.4H319.5" stroke="#555" stroke-width="1.9" fill="none"/>
<text transform="translate(306 536.7) scale(0.89 1)" font-family='"Liberation Sans", Arial, Helvetica, sans-serif' font-size="16.7" text-anchor="end" fill="#555">1.0M</text>
<text transform="translate(306 587.3) scale(0.89 1)" font-family='"Liberation Sans", Arial, Helvetica, sans-serif' font-size="16.7" text-anchor="end" fill="#555">800K</text>
<text transform="translate(306 638.1) scale(0.89 1)" font-family='"Liberation Sans", Arial, Helvetica, sans-serif' font-size="16.7" text-anchor="end" fill="#555">600K</text>
<text transform="translate(306 689.9) scale(0.89 1)" font-family='"Liberation Sans", Arial, Helvetica, sans-serif' font-size="16.7" text-anchor="end" fill="#555">400K</text>
<text transform="translate(306 739.9) scale(0.89 1)" font-family='"Liberation Sans", Arial, Helvetica, sans-serif' font-size="16.7" text-anchor="end" fill="#555">200K</text>
<text transform="translate(306 782.8) scale(0.89 1)" font-family='"Liberation Sans", Arial, Helvetica, sans-serif' font-size="16.7" text-anchor="end" fill="#555">0</text>
<path d="M449 783.7V791.9M503.4 783.7V791.9M551 783.7V791.9M599.4 783.7V791.9" stroke="#1c1c1c" stroke-width="2.8" fill="none"/>
<path d="M401.5 783.7V788.2M413.4 783.7V788.2M421.9 783.7V788.2M428.5 783.7V788.2M433.9 783.7V788.2M438.5 783.7V788.2M442.4 783.7V788.2M445.9 783.7V788.2M465.4 783.7V788.2M475 783.7V788.2M481.8 783.7V788.2M487 783.7V788.2M491.3 783.7V788.2M495 783.7V788.2M498.1 783.7V788.2M500.9 783.7V788.2M517.7 783.7V788.2M526.1 783.7V788.2M532.1 783.7V788.2M536.7 783.7V788.2M540.4 783.7V788.2M543.6 783.7V788.2M546.4 783.7V788.2M548.8 783.7V788.2M565.6 783.7V788.2M574.1 783.7V788.2M580.1 783.7V788.2M584.8 783.7V788.2M588.7 783.7V788.2M591.9 783.7V788.2M594.7 783.7V788.2M597.2 783.7V788.2M360.4 783.7V788.2M349.9 783.7V788.2M339.4 783.7V788.2M328.9 783.7V788.2" stroke="#666" stroke-width="1.7" fill="none"/>
<path d="M363.4 783.7V791.2M367.9 783.7V791.2M372.4 783.7V791.2M375.9 783.7V791.2M379.4 783.7V791.2M382.9 783.7V791.2M386.4 783.7V791.2M390.4 783.7V791.2M393.4 783.7V791.2" stroke="#111" stroke-width="2.6" fill="none"/>
<text transform="translate(382.9 819) scale(0.89 1)" font-family='"Liberation Sans", Arial, Helvetica, sans-serif' font-size="16.7" text-anchor="middle" fill="#555">0</text>
<text transform="translate(447.8 819) scale(0.89 1)" font-family='"Liberation Sans", Arial, Helvetica, sans-serif' font-size="16.7" text-anchor="start" fill="#555">10<tspan dy="-13.8" dx="1.2" font-size="14.5">4</tspan></text>
<text transform="translate(502.2 819) scale(0.89 1)" font-family='"Liberation Sans", Arial, Helvetica, sans-serif' font-size="16.7" text-anchor="start" fill="#555">10<tspan dy="-13.8" dx="1.2" font-size="14.5">5</tspan></text>
<text transform="translate(549.8 819) scale(0.89 1)" font-family='"Liberation Sans", Arial, Helvetica, sans-serif' font-size="16.7" text-anchor="start" fill="#555">10<tspan dy="-13.8" dx="1.2" font-size="14.5">6</tspan></text>
<text transform="translate(584.7 819) scale(0.89 1)" font-family='"Liberation Sans", Arial, Helvetica, sans-serif' font-size="16.7" text-anchor="start" fill="#555">10<tspan dy="-13.8" dx="1.2" font-size="14.5">7</tspan></text>
<polygon points="411,779 444,536.5 569.5,536.5 569.5,779" fill="none" stroke="#303030" stroke-width="2.4" stroke-linejoin="miter"/>
<rect x="456.7" y="521.8" width="102" height="19.6" fill="#fff"/>
<text x="507.7" y="537.8" font-family='"Liberation Sans", Arial, Helvetica, sans-serif' font-size="21.3" font-weight="bold" text-anchor="middle" fill="#000">mCherry+</text>
<text x="507.7" y="565.3" font-family='"Liberation Sans", Arial, Helvetica, sans-serif' font-size="21.3" font-weight="bold" text-anchor="middle" fill="#000">30.5</text>
<g clip-path="url(#c5)"><g filter="url(#dens3)">
<rect x="856" y="491.2" width="310.5" height="305" fill="#000"/>
<ellipse cx="941.3" cy="715" rx="52" ry="56" fill="url(#g11)" transform="rotate(10 941.3 715)"/>
<ellipse cx="952" cy="712" rx="80" ry="74" fill="url(#g12)" transform="rotate(-10 952 712)"/>
<ellipse cx="985" cy="700" rx="102" ry="88" fill="url(#g5)" transform="rotate(-20 985 700)"/>
<ellipse cx="962" cy="690" rx="114" ry="104" fill="url(#g13)" transform="rotate(-20 962 690)"/>
</g></g>
<path d="M860 495.2H1162.5V792.2" fill="none" stroke="#a4a4a4" stroke-width="2.7"/>
<path d="M860 792.2H1162.5" fill="none" stroke="#6a6a6a" stroke-width="1.8"/>
<path d="M860 495.2V793.1" fill="none" stroke="#3c3c3c" stroke-width="2.6"/>
<path d="M852 529.5H860M852 596H860M852 661.3H860M852 727H860" stroke="#1c1c1c" stroke-width="3" fill="none"/>
<path d="M851 792.2H860" stroke="#1c1c1c" stroke-width="2.6" fill="none"/>
<path d="M856 507.3H860M856 518.4H860M856 540.6H860M856 551.7H860M856 562.8H860M856 573.8H860M856 584.9H860M856 607.1H860M856 618.2H860M856 629.3H860M856 640.3H860M856 651.4H860M856 662.5H860M856 673.6H860M856 684.7H860M856 695.8H860M856 706.8H860M856 717.9H860M856 729H860M856 740.1H860M856 751.2H860M856 762.3H860M856 773.3H860M856 784.4H860" stroke="#555" stroke-width="1.9" fill="none"/>
<text transform="translate(846.5 537.8) scale(0.89 1)" font-family='"Liberation Sans", Arial, Helvetica, sans-serif' font-size="16.7" text-anchor="end" fill="#555">1.2M</text>
<text transform="translate(846.5 604.3) scale(0.89 1)" font-family='"Liberation Sans", Arial, Helvetica, sans-serif' font-size="16.7" text-anchor="end" fill="#555">900K</text>
<text transform="translate(846.5 669.6) scale(0.89 1)" font-family='"Liberation Sans", Arial, Helvetica, sans-serif' font-size="16.7" text-anchor="end" fill="#555">600K</text>
<text transform="translate(846.5 735.3) scale(0.89 1)" font-family='"Liberation Sans", Arial, Helvetica, sans-serif' font-size="16.7" text-anchor="end" fill="#555">300K</text>
<text transform="translate(846.5 792.3) scale(0.89 1)" font-family='"Liberation Sans", Arial, Helvetica, sans-serif' font-size="16.7" text-anchor="end" fill="#555">0</text>
<path d="M994.7 792.2V800.4M1050 792.2V800.4M1099.8 792.2V800.4M1149.4 792.2V800.4" stroke="#1c1c1c" stroke-width="2.8" fill="none"/>
<path d="M946.4 792.2V796.7M958.6 792.2V796.7M967.2 792.2V796.7M973.9 792.2V796.7M979.4 792.2V796.7M984 792.2V796.7M988 792.2V796.7M991.5 792.2V796.7M1011.3 792.2V796.7M1021.1 792.2V796.7M1028 792.2V796.7M1033.4 792.2V796.7M1037.7 792.2V796.7M1041.4 792.2V796.7M1044.6 792.2V796.7M1047.5 792.2V796.7M1065 792.2V796.7M1073.8 792.2V796.7M1080 792.2V796.7M1084.8 792.2V796.7M1088.8 792.2V796.7M1092.1 792.2V796.7M1095 792.2V796.7M1097.5 792.2V796.7M1114.7 792.2V796.7M1123.5 792.2V796.7M1129.7 792.2V796.7M1134.5 792.2V796.7M1138.4 792.2V796.7M1141.7 792.2V796.7M1144.6 792.2V796.7M1147.1 792.2V796.7M903.6 792.2V796.7M893.1 792.2V796.7M882.6 792.2V796.7M872.1 792.2V796.7" stroke="#666" stroke-width="1.7" fill="none"/>
<path d="M906.6 792.2V799.7M911.1 792.2V799.7M915.6 792.2V799.7M919.1 792.2V799.7M922.6 792.2V799.7M926.1 792.2V799.7M929.6 792.2V799.7M933.6 792.2V799.7M936.6 792.2V799.7" stroke="#111" stroke-width="2.6" fill="none"/>
<text transform="translate(926.1 827.5) scale(0.89 1)" font-family='"Liberation Sans", Arial, Helvetica, sans-serif' font-size="16.7" text-anchor="middle" fill="#555">0</text>
<text transform="translate(993.5 827.5) scale(0.89 1)" font-family='"Liberation Sans", Arial, Helvetica, sans-serif' font-size="16.7" text-anchor="start" fill="#555">10<tspan dy="-13.8" dx="1.2" font-size="14.5">4</tspan></text>
<text transform="translate(1048.8 827.5) scale(0.89 1)" font-family='"Liberation Sans", Arial, Helvetica, sans-serif' font-size="16.7" text-anchor="start" fill="#555">10<tspan dy="-13.8" dx="1.2" font-size="14.5">5</tspan></text>
<text transform="translate(1098.6 827.5) scale(0.89 1)" font-family='"Liberation Sans", Arial, Helvetica, sans-serif' font-size="16.7" text-anchor="start" fill="#555">10<tspan dy="-13.8" dx="1.2" font-size="14.5">6</tspan></text>
<text transform="translate(1134.7 827.5) scale(0.89 1)" font-family='"Liberation Sans", Arial, Helvetica, sans-serif' font-size="16.7" text-anchor="start" fill="#555">10<tspan dy="-13.8" dx="1.2" font-size="14.5">7</tspan></text>
<polygon points="944.7,779.5 994.3,545.2 1106,545.2 1110,779.5" fill="none" stroke="#303030" stroke-width="2.4" stroke-linejoin="miter"/>
<rect x="996.7" y="527.6" width="102" height="19.6" fill="#fff"/>
<text x="1047.7" y="543.6" font-family='"Liberation Sans", Arial, Helvetica, sans-serif' font-size="21.3" font-weight="bold" text-anchor="middle" fill="#000">mCherry+</text>
<text x="1047.3" y="571.5" font-family='"Liberation Sans", Arial, Helvetica, sans-serif' font-size="21.3" font-weight="bold" text-anchor="middle" fill="#000">33.1</text>
<g clip-path="url(#c6)"><g filter="url(#dens2)">
<rect x="1393" y="491.7" width="303" height="304.3" fill="#000"/>
<ellipse cx="1440" cy="733.5" rx="50" ry="40" fill="url(#g14)" transform="rotate(5 1440 733.5)"/>
<ellipse cx="1438" cy="742" rx="26" ry="20" fill="url(#g4)"/>
<ellipse cx="1510" cy="726" rx="82" ry="30" fill="url(#g15)" transform="rotate(-5 1510 726)"/>
</g></g>
<path d="M1397 495.7H1692V792" fill="none" stroke="#a4a4a4" stroke-width="2.7"/>
<path d="M1397 792H1692" fill="none" stroke="#6a6a6a" stroke-width="1.8"/>
<path d="M1397 495.7V792.9" fill="none" stroke="#3c3c3c" stroke-width="2.6"/>
<path d="M1389 529.5H1397M1389 581.4H1397M1389 634H1397M1389 687.4H1397M1389 739.7H1397" stroke="#1c1c1c" stroke-width="3" fill="none"/>
<path d="M1388 792H1397" stroke="#1c1c1c" stroke-width="2.6" fill="none"/>
<path d="M1393 503.5H1397M1393 516.5H1397M1393 542.5H1397M1393 555.5H1397M1393 568.4H1397M1393 594.4H1397M1393 607.4H1397M1393 620.3H1397M1393 646.3H1397M1393 659.3H1397M1393 672.2H1397M1393 685.2H1397M1393 698.2H1397M1393 711.2H1397M1393 724.1H1397M1393 737.1H1397M1393 750.1H1397M1393 763.1H1397M1393 776H1397M1393 789H1397" stroke="#555" stroke-width="1.9" fill="none"/>
<text transform="translate(1383.5 537.8) scale(0.89 1)" font-family='"Liberation Sans", Arial, Helvetica, sans-serif' font-size="16.7" text-anchor="end" fill="#555">1.0M</text>
<text transform="translate(1383.5 589.7) scale(0.89 1)" font-family='"Liberation Sans", Arial, Helvetica, sans-serif' font-size="16.7" text-anchor="end" fill="#555">800K</text>
<text transform="translate(1383.5 642.3) scale(0.89 1)" font-family='"Liberation Sans", Arial, Helvetica, sans-serif' font-size="16.7" text-anchor="end" fill="#555">600K</text>
<text transform="translate(1383.5 695.7) scale(0.89 1)" font-family='"Liberation Sans", Arial, Helvetica, sans-serif' font-size="16.7" text-anchor="end" fill="#555">400K</text>
<text transform="translate(1383.5 748) scale(0.89 1)" font-family='"Liberation Sans", Arial, Helvetica, sans-serif' font-size="16.7" text-anchor="end" fill="#555">200K</text>
<text transform="translate(1383.5 792.3) scale(0.89 1)" font-family='"Liberation Sans", Arial, Helvetica, sans-serif' font-size="16.7" text-anchor="end" fill="#555">0</text>
<path d="M1528.5 792V800.2M1582.7 792V800.2M1631 792V800.2M1680 792V800.2" stroke="#1c1c1c" stroke-width="2.8" fill="none"/>
<path d="M1481.1 792V796.5M1493.1 792V796.5M1501.5 792V796.5M1508.1 792V796.5M1513.5 792V796.5M1518 792V796.5M1521.9 792V796.5M1525.4 792V796.5M1544.8 792V796.5M1554.4 792V796.5M1561.1 792V796.5M1566.4 792V796.5M1570.7 792V796.5M1574.3 792V796.5M1577.4 792V796.5M1580.2 792V796.5M1597.2 792V796.5M1605.7 792V796.5M1611.8 792V796.5M1616.5 792V796.5M1620.3 792V796.5M1623.5 792V796.5M1626.3 792V796.5M1628.8 792V796.5M1645.8 792V796.5M1654.4 792V796.5M1660.5 792V796.5M1665.2 792V796.5M1669.1 792V796.5M1672.4 792V796.5M1675.3 792V796.5M1677.8 792V796.5M1439 792V796.5M1428.5 792V796.5M1418 792V796.5M1407.5 792V796.5" stroke="#666" stroke-width="1.7" fill="none"/>
<path d="M1442 792V799.5M1446.5 792V799.5M1451 792V799.5M1454.5 792V799.5M1458 792V799.5M1461.5 792V799.5M1465 792V799.5M1469 792V799.5M1472 792V799.5" stroke="#111" stroke-width="2.6" fill="none"/>
<text transform="translate(1461.5 827.3) scale(0.89 1)" font-family='"Liberation Sans", Arial, Helvetica, sans-serif' font-size="16.7" text-anchor="middle" fill="#555">0</text>
<text transform="translate(1527.3 827.3) scale(0.89 1)" font-family='"Liberation Sans", Arial, Helvetica, sans-serif' font-size="16.7" text-anchor="start" fill="#555">10<tspan dy="-13.8" dx="1.2" font-size="14.5">4</tspan></text>
<text transform="translate(1581.5 827.3) scale(0.89 1)" font-family='"Liberation Sans", Arial, Helvetica, sans-serif' font-size="16.7" text-anchor="start" fill="#555">10<tspan dy="-13.8" dx="1.2" font-size="14.5">5</tspan></text>
<text transform="translate(1629.8 827.3) scale(0.89 1)" font-family='"Liberation Sans", Arial, Helvetica, sans-serif' font-size="16.7" text-anchor="start" fill="#555">10<tspan dy="-13.8" dx="1.2" font-size="14.5">6</tspan></text>
<text transform="translate(1665.3 827.3) scale(0.89 1)" font-family='"Liberation Sans", Arial, Helvetica, sans-serif' font-size="16.7" text-anchor="start" fill="#555">10<tspan dy="-13.8" dx="1.2" font-size="14.5">7</tspan></text>
<path d="M1508.8 599.1L1465.6 786L1624 786L1624 533.5L1610 533.5" fill="none" stroke="#303030" stroke-width="2.4"/>
<path d="M1508.8 599.1L1524 533.5L1610 533.5" fill="none" stroke="#c4c4c4" stroke-width="1.5"/>
<text x="1560.8" y="555.2" font-family='"Liberation Sans", Arial, Helvetica, sans-serif' font-size="21.3" font-weight="bold" text-anchor="middle" fill="#000">mCherry+</text>
<text x="1560.8" y="583.2" font-family='"Liberation Sans", Arial, Helvetica, sans-serif' font-size="21.3" font-weight="bold" text-anchor="middle" fill="#000">14.4</text>
<g clip-path="url(#c7)"><g filter="url(#dens2)">
<rect x="1934.2" y="499.9" width="308.6" height="305.6" fill="#000"/>
<ellipse cx="1975.6" cy="760.4" rx="47" ry="32" fill="url(#g16)" transform="rotate(-5 1975.6 760.4)"/>
<ellipse cx="1972" cy="765" rx="26" ry="18" fill="url(#g4)"/>
<ellipse cx="2052" cy="752" rx="84" ry="26" fill="url(#g15)" transform="rotate(-5 2052 752)"/>
</g></g>
<path d="M1938.2 503.9H2238.8V801.5" fill="none" stroke="#a4a4a4" stroke-width="2.7"/>
<path d="M1938.2 801.5H2238.8" fill="none" stroke="#6a6a6a" stroke-width="1.8"/>
<path d="M1938.2 503.9V802.4" fill="none" stroke="#3c3c3c" stroke-width="2.6"/>
<path d="M1930.2 537.8H1938.2M1930.2 590.2H1938.2M1930.2 642.3H1938.2M1930.2 696.5H1938.2M1930.2 748.8H1938.2" stroke="#1c1c1c" stroke-width="3" fill="none"/>
<path d="M1929.2 801.5H1938.2" stroke="#1c1c1c" stroke-width="2.6" fill="none"/>
<path d="M1934.2 511.6H1938.2M1934.2 524.7H1938.2M1934.2 550.9H1938.2M1934.2 564H1938.2M1934.2 577.1H1938.2M1934.2 603.3H1938.2M1934.2 616.4H1938.2M1934.2 629.5H1938.2M1934.2 655.7H1938.2M1934.2 668.8H1938.2M1934.2 681.9H1938.2M1934.2 695H1938.2M1934.2 708.1H1938.2M1934.2 721.2H1938.2M1934.2 734.3H1938.2M1934.2 747.4H1938.2M1934.2 760.5H1938.2M1934.2 773.6H1938.2M1934.2 786.7H1938.2" stroke="#555" stroke-width="1.9" fill="none"/>
<text transform="translate(1924.1 546.5) scale(0.89 1)" font-family='"Liberation Sans", Arial, Helvetica, sans-serif' font-size="17.5" text-anchor="end" fill="#555">1.0M</text>
<text transform="translate(1924.1 598.9) scale(0.89 1)" font-family='"Liberation Sans", Arial, Helvetica, sans-serif' font-size="17.5" text-anchor="end" fill="#555">800K</text>
<text transform="translate(1924.1 651) scale(0.89 1)" font-family='"Liberation Sans", Arial, Helvetica, sans-serif' font-size="17.5" text-anchor="end" fill="#555">600K</text>
<text transform="translate(1924.1 705.2) scale(0.89 1)" font-family='"Liberation Sans", Arial, Helvetica, sans-serif' font-size="17.5" text-anchor="end" fill="#555">400K</text>
<text transform="translate(1924.1 757.5) scale(0.89 1)" font-family='"Liberation Sans", Arial, Helvetica, sans-serif' font-size="17.5" text-anchor="end" fill="#555">200K</text>
<text transform="translate(1924.1 802.1) scale(0.89 1)" font-family='"Liberation Sans", Arial, Helvetica, sans-serif' font-size="17.5" text-anchor="end" fill="#555">0</text>
<path d="M2072 801.5V809.7M2127.6 801.5V809.7M2177.3 801.5V809.7M2226.5 801.5V809.7" stroke="#1c1c1c" stroke-width="2.8" fill="none"/>
<path d="M2023.4 801.5V806M2035.7 801.5V806M2044.3 801.5V806M2051.1 801.5V806M2056.6 801.5V806M2061.2 801.5V806M2065.3 801.5V806M2068.8 801.5V806M2088.7 801.5V806M2098.5 801.5V806M2105.5 801.5V806M2110.9 801.5V806M2115.3 801.5V806M2119 801.5V806M2122.2 801.5V806M2125.1 801.5V806M2142.6 801.5V806M2151.3 801.5V806M2157.5 801.5V806M2162.3 801.5V806M2166.3 801.5V806M2169.6 801.5V806M2172.5 801.5V806M2175 801.5V806M2192.1 801.5V806M2200.8 801.5V806M2206.9 801.5V806M2211.7 801.5V806M2215.6 801.5V806M2218.9 801.5V806M2221.7 801.5V806M2224.2 801.5V806M1981.9 801.5V806M1971.4 801.5V806M1960.9 801.5V806M1950.4 801.5V806" stroke="#666" stroke-width="1.7" fill="none"/>
<path d="M1984.9 801.5V809M1989.4 801.5V809M1993.9 801.5V809M1997.4 801.5V809M2000.9 801.5V809M2004.4 801.5V809M2007.9 801.5V809M2011.9 801.5V809M2014.9 801.5V809" stroke="#111" stroke-width="2.6" fill="none"/>
<text transform="translate(2004.4 838.5) scale(0.89 1)" font-family='"Liberation Sans", Arial, Helvetica, sans-serif' font-size="17.5" text-anchor="middle" fill="#555">0</text>
<text transform="translate(2070.8 838.5) scale(0.89 1)" font-family='"Liberation Sans", Arial, Helvetica, sans-serif' font-size="17.5" text-anchor="start" fill="#555">10<tspan dy="-14.5" dx="1.2" font-size="15.2">4</tspan></text>
<text transform="translate(2126.4 838.5) scale(0.89 1)" font-family='"Liberation Sans", Arial, Helvetica, sans-serif' font-size="17.5" text-anchor="start" fill="#555">10<tspan dy="-14.5" dx="1.2" font-size="15.2">5</tspan></text>
<text transform="translate(2176.1 838.5) scale(0.89 1)" font-family='"Liberation Sans", Arial, Helvetica, sans-serif' font-size="17.5" text-anchor="start" fill="#555">10<tspan dy="-14.5" dx="1.2" font-size="15.2">6</tspan></text>
<text transform="translate(2211.1 838.5) scale(0.89 1)" font-family='"Liberation Sans", Arial, Helvetica, sans-serif' font-size="17.5" text-anchor="start" fill="#555">10<tspan dy="-14.5" dx="1.2" font-size="15.2">7</tspan></text>
<polygon points="2022.3,792.9 2068.6,553 2217,555.5 2217,791" fill="none" stroke="#303030" stroke-width="2.4" stroke-linejoin="miter"/>
<rect x="2079.2" y="551" width="102.8" height="6" fill="#fff"/>
<text x="2130.6" y="563.8" font-family='"Liberation Sans", Arial, Helvetica, sans-serif' font-size="22.3" font-weight="bold" text-anchor="middle" fill="#000">mCherry+</text>
<text x="2130.6" y="592.8" font-family='"Liberation Sans", Arial, Helvetica, sans-serif' font-size="22.3" font-weight="bold" text-anchor="middle" fill="#000">10.0</text>
<g clip-path="url(#c8)"><g filter="url(#dens1)">
<rect x="305.8" y="1031" width="302.7" height="299" fill="#000"/>
<ellipse cx="373.6" cy="1309" rx="24" ry="27" fill="url(#g17)"/>
<ellipse cx="376" cy="1316" rx="62" ry="60" fill="url(#g12)"/>
<ellipse cx="378" cy="1265" rx="34" ry="80" fill="url(#g12)" transform="rotate(1 378 1265)"/>
<ellipse cx="381" cy="1200" rx="22" ry="112" fill="url(#g18)" transform="rotate(3 381 1200)"/>
<ellipse cx="425" cy="1230" rx="50" ry="120" fill="url(#g19)" transform="rotate(4 425 1230)"/>
</g></g>
<path d="M309.8 1035H604.5V1326" fill="none" stroke="#a4a4a4" stroke-width="2.7"/>
<path d="M309.8 1326H604.5" fill="none" stroke="#6a6a6a" stroke-width="1.8"/>
<path d="M309.8 1035V1326.9" fill="none" stroke="#3c3c3c" stroke-width="2.6"/>
<path d="M301.8 1067.7H309.8M301.8 1119H309.8M301.8 1170.2H309.8M301.8 1222.8H309.8M301.8 1273.5H309.8" stroke="#1c1c1c" stroke-width="3" fill="none"/>
<path d="M300.8 1326H309.8" stroke="#1c1c1c" stroke-width="2.6" fill="none"/>
<path d="M305.8 1042H309.8M305.8 1054.9H309.8M305.8 1080.5H309.8M305.8 1093.4H309.8M305.8 1106.2H309.8M305.8 1131.8H309.8M305.8 1144.7H309.8M305.8 1157.5H309.8M305.8 1183.1H309.8M305.8 1196H309.8M305.8 1208.8H309.8M305.8 1221.6H309.8M305.8 1234.4H309.8M305.8 1247.3H309.8M305.8 1260.1H309.8M305.8 1285.7H309.8M305.8 1298.6H309.8M305.8 1311.4H309.8" stroke="#555" stroke-width="1.9" fill="none"/>
<text transform="translate(296.3 1076) scale(0.89 1)" font-family='"Liberation Sans", Arial, Helvetica, sans-serif' font-size="16.7" text-anchor="end" fill="#555">1.0M</text>
<text transform="translate(296.3 1127.3) scale(0.89 1)" font-family='"Liberation Sans", Arial, Helvetica, sans-serif' font-size="16.7" text-anchor="end" fill="#555">800K</text>
<text transform="translate(296.3 1178.5) scale(0.89 1)" font-family='"Liberation Sans", Arial, Helvetica, sans-serif' font-size="16.7" text-anchor="end" fill="#555">600K</text>
<text transform="translate(296.3 1231.1) scale(0.89 1)" font-family='"Liberation Sans", Arial, Helvetica, sans-serif' font-size="16.7" text-anchor="end" fill="#555">400K</text>
<text transform="translate(296.3 1281.8) scale(0.89 1)" font-family='"Liberation Sans", Arial, Helvetica, sans-serif' font-size="16.7" text-anchor="end" fill="#555">200K</text>
<text transform="translate(296.3 1325.3) scale(0.89 1)" font-family='"Liberation Sans", Arial, Helvetica, sans-serif' font-size="16.7" text-anchor="end" fill="#555">0</text>
<path d="M441 1326V1334.2M495 1326V1334.2M543.7 1326V1334.2M591.4 1326V1334.2" stroke="#1c1c1c" stroke-width="2.8" fill="none"/>
<path d="M393.8 1326V1330.5M405.7 1326V1330.5M414.1 1326V1330.5M420.7 1326V1330.5M426 1326V1330.5M430.5 1326V1330.5M434.5 1326V1330.5M437.9 1326V1330.5M457.3 1326V1330.5M466.8 1326V1330.5M473.5 1326V1330.5M478.7 1326V1330.5M483 1326V1330.5M486.6 1326V1330.5M489.8 1326V1330.5M492.5 1326V1330.5M509.7 1326V1330.5M518.2 1326V1330.5M524.3 1326V1330.5M529 1326V1330.5M532.9 1326V1330.5M536.2 1326V1330.5M539 1326V1330.5M541.5 1326V1330.5M558.1 1326V1330.5M566.5 1326V1330.5M572.4 1326V1330.5M577 1326V1330.5M580.8 1326V1330.5M584 1326V1330.5M586.8 1326V1330.5M589.2 1326V1330.5M351.2 1326V1330.5M340.7 1326V1330.5M330.2 1326V1330.5M319.7 1326V1330.5" stroke="#666" stroke-width="1.7" fill="none"/>
<path d="M354.2 1326V1333.5M358.7 1326V1333.5M363.2 1326V1333.5M366.7 1326V1333.5M370.2 1326V1333.5M373.7 1326V1333.5M377.2 1326V1333.5M381.2 1326V1333.5M384.2 1326V1333.5" stroke="#111" stroke-width="2.6" fill="none"/>
<text transform="translate(373.7 1361.3) scale(0.89 1)" font-family='"Liberation Sans", Arial, Helvetica, sans-serif' font-size="16.7" text-anchor="middle" fill="#555">0</text>
<text transform="translate(439.8 1361.3) scale(0.89 1)" font-family='"Liberation Sans", Arial, Helvetica, sans-serif' font-size="16.7" text-anchor="start" fill="#555">10<tspan dy="-13.8" dx="1.2" font-size="14.5">4</tspan></text>
<text transform="translate(493.8 1361.3) scale(0.89 1)" font-family='"Liberation Sans", Arial, Helvetica, sans-serif' font-size="16.7" text-anchor="start" fill="#555">10<tspan dy="-13.8" dx="1.2" font-size="14.5">5</tspan></text>
<text transform="translate(542.5 1361.3) scale(0.89 1)" font-family='"Liberation Sans", Arial, Helvetica, sans-serif' font-size="16.7" text-anchor="start" fill="#555">10<tspan dy="-13.8" dx="1.2" font-size="14.5">6</tspan></text>
<text transform="translate(576.7 1361.3) scale(0.89 1)" font-family='"Liberation Sans", Arial, Helvetica, sans-serif' font-size="16.7" text-anchor="start" fill="#555">10<tspan dy="-13.8" dx="1.2" font-size="14.5">7</tspan></text>
<polygon points="397.8,1320.7 430,1074.8 556.8,1074.8 558.4,1320.7" fill="none" stroke="#303030" stroke-width="2.4" stroke-linejoin="miter"/>
<rect x="445.2" y="1065.8" width="102" height="19.6" fill="#fff"/>
<text x="496.2" y="1081.8" font-family='"Liberation Sans", Arial, Helvetica, sans-serif' font-size="21.3" font-weight="bold" text-anchor="middle" fill="#000">mCherry+</text>
<text x="495.8" y="1108.9" font-family='"Liberation Sans", Arial, Helvetica, sans-serif' font-size="21.3" font-weight="bold" text-anchor="middle" fill="#000">0.61</text>
<g clip-path="url(#c9)"><g filter="url(#dens1)">
<rect x="853.9" y="1029.4" width="302.1" height="300.6" fill="#000"/>
<ellipse cx="922.9" cy="1309.2" rx="26" ry="28" fill="url(#g17)"/>
<ellipse cx="924" cy="1296" rx="17" ry="28" fill="url(#g20)"/>
<ellipse cx="926" cy="1228" rx="22" ry="92" fill="url(#g18)" transform="rotate(1.5 926 1228)"/>
<ellipse cx="975" cy="1306" rx="64" ry="18" fill="url(#g18)"/>
<ellipse cx="990" cy="1250" rx="66" ry="95" fill="url(#g21)"/>
</g></g>
<path d="M857.9 1033.4H1152V1326" fill="none" stroke="#a4a4a4" stroke-width="2.7"/>
<path d="M857.9 1326H1152" fill="none" stroke="#6a6a6a" stroke-width="1.8"/>
<path d="M857.9 1033.4V1326.9" fill="none" stroke="#3c3c3c" stroke-width="2.6"/>
<path d="M849.9 1068H857.9M849.9 1133H857.9M849.9 1197.4H857.9M849.9 1261.5H857.9" stroke="#1c1c1c" stroke-width="3" fill="none"/>
<path d="M848.9 1326H857.9" stroke="#1c1c1c" stroke-width="2.6" fill="none"/>
<path d="M853.9 1035.5H857.9M853.9 1046.3H857.9M853.9 1057.2H857.9M853.9 1078.8H857.9M853.9 1089.7H857.9M853.9 1100.5H857.9M853.9 1111.3H857.9M853.9 1122.2H857.9M853.9 1143.8H857.9M853.9 1154.7H857.9M853.9 1165.5H857.9M853.9 1176.3H857.9M853.9 1187.2H857.9M853.9 1208.8H857.9M853.9 1219.7H857.9M853.9 1230.5H857.9M853.9 1241.3H857.9M853.9 1252.2H857.9M853.9 1263H857.9M853.9 1273.8H857.9M853.9 1284.7H857.9M853.9 1295.5H857.9M853.9 1306.3H857.9M853.9 1317.2H857.9" stroke="#555" stroke-width="1.9" fill="none"/>
<text transform="translate(844.4 1076.3) scale(0.89 1)" font-family='"Liberation Sans", Arial, Helvetica, sans-serif' font-size="16.7" text-anchor="end" fill="#555">1.2M</text>
<text transform="translate(844.4 1141.3) scale(0.89 1)" font-family='"Liberation Sans", Arial, Helvetica, sans-serif' font-size="16.7" text-anchor="end" fill="#555">900K</text>
<text transform="translate(844.4 1205.7) scale(0.89 1)" font-family='"Liberation Sans", Arial, Helvetica, sans-serif' font-size="16.7" text-anchor="end" fill="#555">600K</text>
<text transform="translate(844.4 1269.8) scale(0.89 1)" font-family='"Liberation Sans", Arial, Helvetica, sans-serif' font-size="16.7" text-anchor="end" fill="#555">300K</text>
<text transform="translate(844.4 1326.5) scale(0.89 1)" font-family='"Liberation Sans", Arial, Helvetica, sans-serif' font-size="16.7" text-anchor="end" fill="#555">0</text>
<path d="M989.2 1326V1334.2M1042.7 1326V1334.2M1091 1326V1334.2M1139.4 1326V1334.2" stroke="#1c1c1c" stroke-width="2.8" fill="none"/>
<path d="M942.5 1326V1330.5M954.2 1326V1330.5M962.6 1326V1330.5M969.1 1326V1330.5M974.4 1326V1330.5M978.8 1326V1330.5M982.7 1326V1330.5M986.1 1326V1330.5M1005.3 1326V1330.5M1014.7 1326V1330.5M1021.4 1326V1330.5M1026.6 1326V1330.5M1030.8 1326V1330.5M1034.4 1326V1330.5M1037.5 1326V1330.5M1040.3 1326V1330.5M1057.2 1326V1330.5M1065.7 1326V1330.5M1071.8 1326V1330.5M1076.5 1326V1330.5M1080.3 1326V1330.5M1083.5 1326V1330.5M1086.3 1326V1330.5M1088.8 1326V1330.5M1105.6 1326V1330.5M1114.1 1326V1330.5M1120.1 1326V1330.5M1124.8 1326V1330.5M1128.7 1326V1330.5M1131.9 1326V1330.5M1134.7 1326V1330.5M1137.2 1326V1330.5M899.7 1326V1330.5M889.2 1326V1330.5M878.7 1326V1330.5M868.2 1326V1330.5" stroke="#666" stroke-width="1.7" fill="none"/>
<path d="M902.7 1326V1333.5M907.2 1326V1333.5M911.7 1326V1333.5M915.2 1326V1333.5M918.7 1326V1333.5M922.2 1326V1333.5M925.7 1326V1333.5M929.7 1326V1333.5M932.7 1326V1333.5" stroke="#111" stroke-width="2.6" fill="none"/>
<text transform="translate(922.2 1361.3) scale(0.89 1)" font-family='"Liberation Sans", Arial, Helvetica, sans-serif' font-size="16.7" text-anchor="middle" fill="#555">0</text>
<text transform="translate(988 1361.3) scale(0.89 1)" font-family='"Liberation Sans", Arial, Helvetica, sans-serif' font-size="16.7" text-anchor="start" fill="#555">10<tspan dy="-13.8" dx="1.2" font-size="14.5">4</tspan></text>
<text transform="translate(1041.5 1361.3) scale(0.89 1)" font-family='"Liberation Sans", Arial, Helvetica, sans-serif' font-size="16.7" text-anchor="start" fill="#555">10<tspan dy="-13.8" dx="1.2" font-size="14.5">5</tspan></text>
<text transform="translate(1089.8 1361.3) scale(0.89 1)" font-family='"Liberation Sans", Arial, Helvetica, sans-serif' font-size="16.7" text-anchor="start" fill="#555">10<tspan dy="-13.8" dx="1.2" font-size="14.5">6</tspan></text>
<text transform="translate(1124.7 1361.3) scale(0.89 1)" font-family='"Liberation Sans", Arial, Helvetica, sans-serif' font-size="16.7" text-anchor="start" fill="#555">10<tspan dy="-13.8" dx="1.2" font-size="14.5">7</tspan></text>
<polygon points="934,1323 960.9,1136.4 1085.3,1136.4 1084,1323" fill="none" stroke="#303030" stroke-width="2.4" stroke-linejoin="miter"/>
<text x="1019.6" y="1091.2" font-family='"Liberation Sans", Arial, Helvetica, sans-serif' font-size="21.3" font-weight="bold" text-anchor="middle" fill="#000">mCherry+</text>
<text x="1019.6" y="1119.2" font-family='"Liberation Sans", Arial, Helvetica, sans-serif' font-size="21.3" font-weight="bold" text-anchor="middle" fill="#000">12.8</text>
<g clip-path="url(#c10)"><g filter="url(#dens1)">
<rect x="1399.4" y="1028.7" width="304.8" height="308.7" fill="#000"/>
<ellipse cx="1468.6" cy="1317.2" rx="22" ry="22" fill="url(#g17)"/>
<ellipse cx="1468" cy="1318" rx="44" ry="40" fill="url(#g8)"/>
<ellipse cx="1471" cy="1292" rx="24" ry="56" fill="url(#g8)" transform="rotate(3 1471 1292)"/>
<ellipse cx="1482" cy="1232" rx="22" ry="92" fill="url(#g22)" transform="rotate(8 1482 1232)"/>
<ellipse cx="1525" cy="1255" rx="50" ry="100" fill="url(#g19)" transform="rotate(6 1525 1255)"/>
</g></g>
<path d="M1403.4 1032.7H1700.2V1333.4" fill="none" stroke="#a4a4a4" stroke-width="2.7"/>
<path d="M1403.4 1333.4H1700.2" fill="none" stroke="#6a6a6a" stroke-width="1.8"/>
<path d="M1403.4 1032.7V1334.3" fill="none" stroke="#3c3c3c" stroke-width="2.6"/>
<path d="M1395.4 1068.8H1403.4M1395.4 1134.5H1403.4M1395.4 1200.9H1403.4M1395.4 1267H1403.4" stroke="#1c1c1c" stroke-width="3" fill="none"/>
<path d="M1394.4 1333.4H1403.4" stroke="#1c1c1c" stroke-width="2.6" fill="none"/>
<path d="M1399.4 1035.9H1403.4M1399.4 1046.9H1403.4M1399.4 1057.8H1403.4M1399.4 1079.8H1403.4M1399.4 1090.7H1403.4M1399.4 1101.7H1403.4M1399.4 1112.6H1403.4M1399.4 1123.6H1403.4M1399.4 1145.5H1403.4M1399.4 1156.4H1403.4M1399.4 1167.4H1403.4M1399.4 1178.3H1403.4M1399.4 1189.3H1403.4M1399.4 1211.2H1403.4M1399.4 1222.1H1403.4M1399.4 1233.1H1403.4M1399.4 1244H1403.4M1399.4 1255H1403.4M1399.4 1265.9H1403.4M1399.4 1276.9H1403.4M1399.4 1287.8H1403.4M1399.4 1298.8H1403.4M1399.4 1309.7H1403.4M1399.4 1320.7H1403.4" stroke="#555" stroke-width="1.9" fill="none"/>
<text transform="translate(1389.9 1077.1) scale(0.89 1)" font-family='"Liberation Sans", Arial, Helvetica, sans-serif' font-size="16.7" text-anchor="end" fill="#555">1.2M</text>
<text transform="translate(1389.9 1142.8) scale(0.89 1)" font-family='"Liberation Sans", Arial, Helvetica, sans-serif' font-size="16.7" text-anchor="end" fill="#555">900K</text>
<text transform="translate(1389.9 1209.2) scale(0.89 1)" font-family='"Liberation Sans", Arial, Helvetica, sans-serif' font-size="16.7" text-anchor="end" fill="#555">600K</text>
<text transform="translate(1389.9 1275.3) scale(0.89 1)" font-family='"Liberation Sans", Arial, Helvetica, sans-serif' font-size="16.7" text-anchor="end" fill="#555">300K</text>
<text transform="translate(1389.9 1333.4) scale(0.89 1)" font-family='"Liberation Sans", Arial, Helvetica, sans-serif' font-size="16.7" text-anchor="end" fill="#555">0</text>
<path d="M1535.9 1333.4V1341.6M1590.3 1333.4V1341.6M1639.1 1333.4V1341.6M1688.2 1333.4V1341.6" stroke="#1c1c1c" stroke-width="2.8" fill="none"/>
<path d="M1488.4 1333.4V1337.9M1500.3 1333.4V1337.9M1508.8 1333.4V1337.9M1515.4 1333.4V1337.9M1520.8 1333.4V1337.9M1525.4 1333.4V1337.9M1529.3 1333.4V1337.9M1532.8 1333.4V1337.9M1552.3 1333.4V1337.9M1561.9 1333.4V1337.9M1568.7 1333.4V1337.9M1573.9 1333.4V1337.9M1578.2 1333.4V1337.9M1581.9 1333.4V1337.9M1585 1333.4V1337.9M1587.8 1333.4V1337.9M1605 1333.4V1337.9M1613.6 1333.4V1337.9M1619.7 1333.4V1337.9M1624.4 1333.4V1337.9M1628.3 1333.4V1337.9M1631.5 1333.4V1337.9M1634.4 1333.4V1337.9M1636.9 1333.4V1337.9M1653.9 1333.4V1337.9M1662.5 1333.4V1337.9M1668.7 1333.4V1337.9M1673.4 1333.4V1337.9M1677.3 1333.4V1337.9M1680.6 1333.4V1337.9M1683.4 1333.4V1337.9M1686 1333.4V1337.9M1445.5 1333.4V1337.9M1435 1333.4V1337.9M1424.5 1333.4V1337.9M1414 1333.4V1337.9" stroke="#666" stroke-width="1.7" fill="none"/>
<path d="M1448.5 1333.4V1340.9M1453 1333.4V1340.9M1457.5 1333.4V1340.9M1461 1333.4V1340.9M1464.5 1333.4V1340.9M1468 1333.4V1340.9M1471.5 1333.4V1340.9M1475.5 1333.4V1340.9M1478.5 1333.4V1340.9" stroke="#111" stroke-width="2.6" fill="none"/>
<text transform="translate(1468 1368.7) scale(0.89 1)" font-family='"Liberation Sans", Arial, Helvetica, sans-serif' font-size="16.7" text-anchor="middle" fill="#555">0</text>
<text transform="translate(1534.7 1368.7) scale(0.89 1)" font-family='"Liberation Sans", Arial, Helvetica, sans-serif' font-size="16.7" text-anchor="start" fill="#555">10<tspan dy="-13.8" dx="1.2" font-size="14.5">4</tspan></text>
<text transform="translate(1589.1 1368.7) scale(0.89 1)" font-family='"Liberation Sans", Arial, Helvetica, sans-serif' font-size="16.7" text-anchor="start" fill="#555">10<tspan dy="-13.8" dx="1.2" font-size="14.5">5</tspan></text>
<text transform="translate(1637.9 1368.7) scale(0.89 1)" font-family='"Liberation Sans", Arial, Helvetica, sans-serif' font-size="16.7" text-anchor="start" fill="#555">10<tspan dy="-13.8" dx="1.2" font-size="14.5">6</tspan></text>
<text transform="translate(1673.5 1368.7) scale(0.89 1)" font-family='"Liberation Sans", Arial, Helvetica, sans-serif' font-size="16.7" text-anchor="start" fill="#555">10<tspan dy="-13.8" dx="1.2" font-size="14.5">7</tspan></text>
<path d="M1526.7 1143.7L1514.7 1143.7L1492.8 1329.2M1492.8 1329.2L1630.6 1329.2L1627.6 1143.7L1615.6 1143.7" fill="none" stroke="#303030" stroke-width="2.4"/>
<path d="M1526.7 1143.7L1615.6 1143.7" fill="none" stroke="#bbb" stroke-width="1.5"/>
<text x="1571.2" y="1115.8" font-family='"Liberation Sans", Arial, Helvetica, sans-serif' font-size="21.3" font-weight="bold" text-anchor="middle" fill="#000">mCherry</text>
<text x="1571.6" y="1143.5" font-family='"Liberation Sans", Arial, Helvetica, sans-serif' font-size="21.3" font-weight="bold" text-anchor="middle" fill="#000">1.90</text>
<g clip-path="url(#c11)"><g filter="url(#dens1)">
<rect x="304" y="1392.6" width="304" height="296.7" fill="#000"/>
<ellipse cx="370.9" cy="1670.3" rx="26" ry="30" fill="url(#g17)"/>
<ellipse cx="373" cy="1650" rx="22" ry="60" fill="url(#g23)"/>
<ellipse cx="378" cy="1570" rx="24" ry="132" fill="url(#g24)" transform="rotate(1.5 378 1570)"/>
<ellipse cx="379" cy="1570" rx="42" ry="138" fill="url(#g13)" transform="rotate(1.5 379 1570)"/>
<ellipse cx="436" cy="1664" rx="66" ry="28" fill="url(#g24)"/>
<ellipse cx="400" cy="1668" rx="42" ry="22" fill="url(#g25)"/>
<ellipse cx="428" cy="1600" rx="80" ry="105" fill="url(#g22)" transform="rotate(-30 428 1600)"/>
<ellipse cx="410" cy="1540" rx="55" ry="108" fill="url(#g19)" transform="rotate(-5 410 1540)"/>
<ellipse cx="372" cy="1640" rx="50" ry="62" fill="url(#g16)"/>
</g></g>
<path d="M308 1396.6H604V1685.3" fill="none" stroke="#a4a4a4" stroke-width="2.7"/>
<path d="M308 1685.3H604" fill="none" stroke="#6a6a6a" stroke-width="1.8"/>
<path d="M308 1396.6V1686.2" fill="none" stroke="#3c3c3c" stroke-width="2.6"/>
<path d="M300 1429H308M300 1480.2H308M300 1531.4H308M300 1583.2H308M300 1634H308" stroke="#1c1c1c" stroke-width="3" fill="none"/>
<path d="M299 1685.3H308" stroke="#1c1c1c" stroke-width="2.6" fill="none"/>
<path d="M304 1403.4H308M304 1416.2H308M304 1441.8H308M304 1454.6H308M304 1467.4H308M304 1493H308M304 1505.8H308M304 1518.6H308M304 1544.2H308M304 1557H308M304 1569.8H308M304 1595.4H308M304 1608.2H308M304 1621H308M304 1646.6H308M304 1659.4H308M304 1672.2H308" stroke="#555" stroke-width="1.9" fill="none"/>
<text transform="translate(294.5 1437.3) scale(0.89 1)" font-family='"Liberation Sans", Arial, Helvetica, sans-serif' font-size="16.7" text-anchor="end" fill="#555">1.0M</text>
<text transform="translate(294.5 1488.5) scale(0.89 1)" font-family='"Liberation Sans", Arial, Helvetica, sans-serif' font-size="16.7" text-anchor="end" fill="#555">800K</text>
<text transform="translate(294.5 1539.7) scale(0.89 1)" font-family='"Liberation Sans", Arial, Helvetica, sans-serif' font-size="16.7" text-anchor="end" fill="#555">600K</text>
<text transform="translate(294.5 1591.5) scale(0.89 1)" font-family='"Liberation Sans", Arial, Helvetica, sans-serif' font-size="16.7" text-anchor="end" fill="#555">400K</text>
<text transform="translate(294.5 1642.3) scale(0.89 1)" font-family='"Liberation Sans", Arial, Helvetica, sans-serif' font-size="16.7" text-anchor="end" fill="#555">200K</text>
<text transform="translate(294.5 1685.3) scale(0.89 1)" font-family='"Liberation Sans", Arial, Helvetica, sans-serif' font-size="16.7" text-anchor="end" fill="#555">0</text>
<path d="M439.3 1685.3V1693.5M494.1 1685.3V1693.5M543 1685.3V1693.5M590.2 1685.3V1693.5" stroke="#1c1c1c" stroke-width="2.8" fill="none"/>
<path d="M391.4 1685.3V1689.8M403.5 1685.3V1689.8M412 1685.3V1689.8M418.7 1685.3V1689.8M424.1 1685.3V1689.8M428.7 1685.3V1689.8M432.7 1685.3V1689.8M436.2 1685.3V1689.8M455.8 1685.3V1689.8M465.4 1685.3V1689.8M472.3 1685.3V1689.8M477.6 1685.3V1689.8M481.9 1685.3V1689.8M485.6 1685.3V1689.8M488.8 1685.3V1689.8M491.6 1685.3V1689.8M508.8 1685.3V1689.8M517.4 1685.3V1689.8M523.5 1685.3V1689.8M528.3 1685.3V1689.8M532.2 1685.3V1689.8M535.4 1685.3V1689.8M538.3 1685.3V1689.8M540.8 1685.3V1689.8M557.2 1685.3V1689.8M565.5 1685.3V1689.8M571.4 1685.3V1689.8M576 1685.3V1689.8M579.7 1685.3V1689.8M582.9 1685.3V1689.8M585.6 1685.3V1689.8M588 1685.3V1689.8M349.3 1685.3V1689.8M338.8 1685.3V1689.8M328.3 1685.3V1689.8M317.8 1685.3V1689.8" stroke="#666" stroke-width="1.7" fill="none"/>
<path d="M352.3 1685.3V1692.8M356.8 1685.3V1692.8M361.3 1685.3V1692.8M364.8 1685.3V1692.8M368.3 1685.3V1692.8M371.8 1685.3V1692.8M375.3 1685.3V1692.8M379.3 1685.3V1692.8M382.3 1685.3V1692.8" stroke="#111" stroke-width="2.6" fill="none"/>
<text transform="translate(371.8 1720.6) scale(0.89 1)" font-family='"Liberation Sans", Arial, Helvetica, sans-serif' font-size="16.7" text-anchor="middle" fill="#555">0</text>
<text transform="translate(438.1 1720.6) scale(0.89 1)" font-family='"Liberation Sans", Arial, Helvetica, sans-serif' font-size="16.7" text-anchor="start" fill="#555">10<tspan dy="-13.8" dx="1.2" font-size="14.5">4</tspan></text>
<text transform="translate(492.9 1720.6) scale(0.89 1)" font-family='"Liberation Sans", Arial, Helvetica, sans-serif' font-size="16.7" text-anchor="start" fill="#555">10<tspan dy="-13.8" dx="1.2" font-size="14.5">5</tspan></text>
<text transform="translate(541.8 1720.6) scale(0.89 1)" font-family='"Liberation Sans", Arial, Helvetica, sans-serif' font-size="16.7" text-anchor="start" fill="#555">10<tspan dy="-13.8" dx="1.2" font-size="14.5">6</tspan></text>
<text transform="translate(575.5 1720.6) scale(0.89 1)" font-family='"Liberation Sans", Arial, Helvetica, sans-serif' font-size="16.7" text-anchor="start" fill="#555">10<tspan dy="-13.8" dx="1.2" font-size="14.5">7</tspan></text>
<polygon points="396.7,1680.7 428.5,1436.5 555.2,1436.5 556.1,1680.7" fill="none" stroke="#303030" stroke-width="2.4" stroke-linejoin="miter"/>
<rect x="443.6" y="1426.8" width="102" height="19.6" fill="#fff"/>
<text x="494.6" y="1442.8" font-family='"Liberation Sans", Arial, Helvetica, sans-serif' font-size="21.3" font-weight="bold" text-anchor="middle" fill="#000">mCherry+</text>
<text x="494.6" y="1470.2" font-family='"Liberation Sans", Arial, Helvetica, sans-serif' font-size="21.3" font-weight="bold" text-anchor="middle" fill="#000">6.82</text>
<g clip-path="url(#c12)"><g filter="url(#dens1)">
<rect x="849.7" y="1390.3" width="300.7" height="300.2" fill="#000"/>
<ellipse cx="917.1" cy="1673.1" rx="22" ry="24" fill="url(#g17)"/>
<ellipse cx="918" cy="1672" rx="34" ry="30" fill="url(#g8)"/>
<ellipse cx="919" cy="1652" rx="20" ry="48" fill="url(#g26)" transform="rotate(1 919 1652)"/>
<ellipse cx="926" cy="1590" rx="16" ry="84" fill="url(#g22)" transform="rotate(6 926 1590)"/>
<ellipse cx="948" cy="1630" rx="40" ry="70" fill="url(#g15)"/>
</g></g>
<path d="M853.7 1394.3H1146.4V1686.5" fill="none" stroke="#a4a4a4" stroke-width="2.7"/>
<path d="M853.7 1686.5H1146.4" fill="none" stroke="#6a6a6a" stroke-width="1.8"/>
<path d="M853.7 1394.3V1687.4" fill="none" stroke="#3c3c3c" stroke-width="2.6"/>
<path d="M845.7 1429H853.7M845.7 1493.6H853.7M845.7 1557.9H853.7M845.7 1622H853.7" stroke="#1c1c1c" stroke-width="3" fill="none"/>
<path d="M844.7 1686.5H853.7" stroke="#1c1c1c" stroke-width="2.6" fill="none"/>
<path d="M849.7 1396.7H853.7M849.7 1407.5H853.7M849.7 1418.2H853.7M849.7 1439.8H853.7M849.7 1450.5H853.7M849.7 1461.3H853.7M849.7 1472.1H853.7M849.7 1482.8H853.7M849.7 1504.4H853.7M849.7 1515.1H853.7M849.7 1525.9H853.7M849.7 1536.7H853.7M849.7 1547.4H853.7M849.7 1569H853.7M849.7 1579.7H853.7M849.7 1590.5H853.7M849.7 1601.3H853.7M849.7 1612H853.7M849.7 1633.6H853.7M849.7 1644.3H853.7M849.7 1655.1H853.7M849.7 1665.9H853.7M849.7 1676.6H853.7" stroke="#555" stroke-width="1.9" fill="none"/>
<text transform="translate(840.2 1437.3) scale(0.89 1)" font-family='"Liberation Sans", Arial, Helvetica, sans-serif' font-size="16.7" text-anchor="end" fill="#555">1.2M</text>
<text transform="translate(840.2 1501.9) scale(0.89 1)" font-family='"Liberation Sans", Arial, Helvetica, sans-serif' font-size="16.7" text-anchor="end" fill="#555">900K</text>
<text transform="translate(840.2 1566.2) scale(0.89 1)" font-family='"Liberation Sans", Arial, Helvetica, sans-serif' font-size="16.7" text-anchor="end" fill="#555">600K</text>
<text transform="translate(840.2 1630.3) scale(0.89 1)" font-family='"Liberation Sans", Arial, Helvetica, sans-serif' font-size="16.7" text-anchor="end" fill="#555">300K</text>
<text transform="translate(840.2 1687.2) scale(0.89 1)" font-family='"Liberation Sans", Arial, Helvetica, sans-serif' font-size="16.7" text-anchor="end" fill="#555">0</text>
<path d="M984.4 1686.5V1694.7M1038.5 1686.5V1694.7M1086.5 1686.5V1694.7M1134.8 1686.5V1694.7" stroke="#1c1c1c" stroke-width="2.8" fill="none"/>
<path d="M937.1 1686.5V1691M949 1686.5V1691M957.5 1686.5V1691M964 1686.5V1691M969.4 1686.5V1691M973.9 1686.5V1691M977.8 1686.5V1691M981.3 1686.5V1691M1000.7 1686.5V1691M1010.2 1686.5V1691M1017 1686.5V1691M1022.2 1686.5V1691M1026.5 1686.5V1691M1030.1 1686.5V1691M1033.3 1686.5V1691M1036 1686.5V1691M1052.9 1686.5V1691M1061.4 1686.5V1691M1067.4 1686.5V1691M1072.1 1686.5V1691M1075.9 1686.5V1691M1079.1 1686.5V1691M1081.8 1686.5V1691M1084.3 1686.5V1691M1101 1686.5V1691M1109.5 1686.5V1691M1115.6 1686.5V1691M1120.3 1686.5V1691M1124.1 1686.5V1691M1127.3 1686.5V1691M1130.1 1686.5V1691M1132.6 1686.5V1691M895 1686.5V1691M884.5 1686.5V1691M874 1686.5V1691M863.5 1686.5V1691" stroke="#666" stroke-width="1.7" fill="none"/>
<path d="M898 1686.5V1694M902.5 1686.5V1694M907 1686.5V1694M910.5 1686.5V1694M914 1686.5V1694M917.5 1686.5V1694M921 1686.5V1694M925 1686.5V1694M928 1686.5V1694" stroke="#111" stroke-width="2.6" fill="none"/>
<text transform="translate(917.5 1721.8) scale(0.89 1)" font-family='"Liberation Sans", Arial, Helvetica, sans-serif' font-size="16.7" text-anchor="middle" fill="#555">0</text>
<text transform="translate(983.2 1721.8) scale(0.89 1)" font-family='"Liberation Sans", Arial, Helvetica, sans-serif' font-size="16.7" text-anchor="start" fill="#555">10<tspan dy="-13.8" dx="1.2" font-size="14.5">4</tspan></text>
<text transform="translate(1037.3 1721.8) scale(0.89 1)" font-family='"Liberation Sans", Arial, Helvetica, sans-serif' font-size="16.7" text-anchor="start" fill="#555">10<tspan dy="-13.8" dx="1.2" font-size="14.5">5</tspan></text>
<text transform="translate(1085.3 1721.8) scale(0.89 1)" font-family='"Liberation Sans", Arial, Helvetica, sans-serif' font-size="16.7" text-anchor="start" fill="#555">10<tspan dy="-13.8" dx="1.2" font-size="14.5">6</tspan></text>
<text transform="translate(1120.1 1721.8) scale(0.89 1)" font-family='"Liberation Sans", Arial, Helvetica, sans-serif' font-size="16.7" text-anchor="start" fill="#555">10<tspan dy="-13.8" dx="1.2" font-size="14.5">7</tspan></text>
<polygon points="929.3,1683.7 955.6,1498 1080,1498 1079,1683.7" fill="none" stroke="#303030" stroke-width="2.4" stroke-linejoin="miter"/>
<text x="1015" y="1452.8" font-family='"Liberation Sans", Arial, Helvetica, sans-serif' font-size="21.3" font-weight="bold" text-anchor="middle" fill="#000">mCherry+</text>
<text x="1015" y="1480.4" font-family='"Liberation Sans", Arial, Helvetica, sans-serif' font-size="21.3" font-weight="bold" text-anchor="middle" fill="#000">1.39</text>
<g clip-path="url(#c13)"><g filter="url(#dens1)">
<rect x="1390.2" y="1392.1" width="305.9" height="304.8" fill="#000"/>
<ellipse cx="1459.4" cy="1677.2" rx="38" ry="30" fill="url(#g17)"/>
<ellipse cx="1490" cy="1677" rx="60" ry="22" fill="url(#g1)"/>
<ellipse cx="1528" cy="1672" rx="60" ry="27" fill="url(#g27)"/>
<ellipse cx="1464" cy="1600" rx="24" ry="100" fill="url(#g18)" transform="rotate(1 1464 1600)"/>
<ellipse cx="1512" cy="1632" rx="72" ry="72" fill="url(#g13)" transform="rotate(-30 1512 1632)"/>
<ellipse cx="1500" cy="1585" rx="52" ry="96" fill="url(#g28)" transform="rotate(-5 1500 1585)"/>
</g></g>
<path d="M1394.2 1396.1H1692.1V1692.9" fill="none" stroke="#a4a4a4" stroke-width="2.7"/>
<path d="M1394.2 1692.9H1692.1" fill="none" stroke="#6a6a6a" stroke-width="1.8"/>
<path d="M1394.2 1396.1V1693.8" fill="none" stroke="#3c3c3c" stroke-width="2.6"/>
<path d="M1386.2 1432.5H1394.2M1386.2 1497.5H1394.2M1386.2 1562.7H1394.2M1386.2 1627.7H1394.2" stroke="#1c1c1c" stroke-width="3" fill="none"/>
<path d="M1385.2 1692.9H1394.2" stroke="#1c1c1c" stroke-width="2.6" fill="none"/>
<path d="M1390.2 1400H1394.2M1390.2 1410.8H1394.2M1390.2 1421.7H1394.2M1390.2 1443.3H1394.2M1390.2 1454.2H1394.2M1390.2 1465H1394.2M1390.2 1475.8H1394.2M1390.2 1486.7H1394.2M1390.2 1508.3H1394.2M1390.2 1519.2H1394.2M1390.2 1530H1394.2M1390.2 1540.8H1394.2M1390.2 1551.7H1394.2M1390.2 1573.3H1394.2M1390.2 1584.2H1394.2M1390.2 1595H1394.2M1390.2 1605.8H1394.2M1390.2 1616.7H1394.2M1390.2 1638.3H1394.2M1390.2 1649.2H1394.2M1390.2 1660H1394.2M1390.2 1670.8H1394.2M1390.2 1681.7H1394.2" stroke="#555" stroke-width="1.9" fill="none"/>
<text transform="translate(1380.7 1440.8) scale(0.89 1)" font-family='"Liberation Sans", Arial, Helvetica, sans-serif' font-size="16.7" text-anchor="end" fill="#555">1.2M</text>
<text transform="translate(1380.7 1505.8) scale(0.89 1)" font-family='"Liberation Sans", Arial, Helvetica, sans-serif' font-size="16.7" text-anchor="end" fill="#555">900K</text>
<text transform="translate(1380.7 1571) scale(0.89 1)" font-family='"Liberation Sans", Arial, Helvetica, sans-serif' font-size="16.7" text-anchor="end" fill="#555">600K</text>
<text transform="translate(1380.7 1636) scale(0.89 1)" font-family='"Liberation Sans", Arial, Helvetica, sans-serif' font-size="16.7" text-anchor="end" fill="#555">300K</text>
<text transform="translate(1380.7 1693.4) scale(0.89 1)" font-family='"Liberation Sans", Arial, Helvetica, sans-serif' font-size="16.7" text-anchor="end" fill="#555">0</text>
<path d="M1526.9 1692.9V1701.1M1581 1692.9V1701.1M1629.9 1692.9V1701.1M1679.4 1692.9V1701.1" stroke="#1c1c1c" stroke-width="2.8" fill="none"/>
<path d="M1479.6 1692.9V1697.4M1491.5 1692.9V1697.4M1500 1692.9V1697.4M1506.5 1692.9V1697.4M1511.9 1692.9V1697.4M1516.4 1692.9V1697.4M1520.3 1692.9V1697.4M1523.8 1692.9V1697.4M1543.2 1692.9V1697.4M1552.7 1692.9V1697.4M1559.5 1692.9V1697.4M1564.7 1692.9V1697.4M1569 1692.9V1697.4M1572.6 1692.9V1697.4M1575.8 1692.9V1697.4M1578.5 1692.9V1697.4M1595.7 1692.9V1697.4M1604.3 1692.9V1697.4M1610.4 1692.9V1697.4M1615.2 1692.9V1697.4M1619.1 1692.9V1697.4M1622.3 1692.9V1697.4M1625.2 1692.9V1697.4M1627.7 1692.9V1697.4M1644.8 1692.9V1697.4M1653.5 1692.9V1697.4M1659.7 1692.9V1697.4M1664.5 1692.9V1697.4M1668.4 1692.9V1697.4M1671.7 1692.9V1697.4M1674.6 1692.9V1697.4M1677.1 1692.9V1697.4M1436.7 1692.9V1697.4M1426.2 1692.9V1697.4M1415.7 1692.9V1697.4M1405.2 1692.9V1697.4" stroke="#666" stroke-width="1.7" fill="none"/>
<path d="M1439.7 1692.9V1700.4M1444.2 1692.9V1700.4M1448.7 1692.9V1700.4M1452.2 1692.9V1700.4M1455.7 1692.9V1700.4M1459.2 1692.9V1700.4M1462.7 1692.9V1700.4M1466.7 1692.9V1700.4M1469.7 1692.9V1700.4" stroke="#111" stroke-width="2.6" fill="none"/>
<text transform="translate(1459.2 1728.2) scale(0.89 1)" font-family='"Liberation Sans", Arial, Helvetica, sans-serif' font-size="16.7" text-anchor="middle" fill="#555">0</text>
<text transform="translate(1525.7 1728.2) scale(0.89 1)" font-family='"Liberation Sans", Arial, Helvetica, sans-serif' font-size="16.7" text-anchor="start" fill="#555">10<tspan dy="-13.8" dx="1.2" font-size="14.5">4</tspan></text>
<text transform="translate(1579.8 1728.2) scale(0.89 1)" font-family='"Liberation Sans", Arial, Helvetica, sans-serif' font-size="16.7" text-anchor="start" fill="#555">10<tspan dy="-13.8" dx="1.2" font-size="14.5">5</tspan></text>
<text transform="translate(1628.7 1728.2) scale(0.89 1)" font-family='"Liberation Sans", Arial, Helvetica, sans-serif' font-size="16.7" text-anchor="start" fill="#555">10<tspan dy="-13.8" dx="1.2" font-size="14.5">6</tspan></text>
<text transform="translate(1664.7 1728.2) scale(0.89 1)" font-family='"Liberation Sans", Arial, Helvetica, sans-serif' font-size="16.7" text-anchor="start" fill="#555">10<tspan dy="-13.8" dx="1.2" font-size="14.5">7</tspan></text>
<path d="M1518.2 1506L1506.2 1506L1484 1689.2M1484 1689.2L1621.8 1689.2L1618.4 1506L1606.4 1506" fill="none" stroke="#303030" stroke-width="2.4"/>
<path d="M1518.2 1506L1606.4 1506" fill="none" stroke="#bbb" stroke-width="1.5"/>
<text x="1562.4" y="1478.2" font-family='"Liberation Sans", Arial, Helvetica, sans-serif' font-size="21.3" font-weight="bold" text-anchor="middle" fill="#000">mCherry</text>
<text x="1562.4" y="1505.8" font-family='"Liberation Sans", Arial, Helvetica, sans-serif' font-size="21.3" font-weight="bold" text-anchor="middle" fill="#000">25.3</text>
<text x="568.3" y="1937" font-family='"Liberation Sans", Arial, Helvetica, sans-serif' font-size="43.7" font-weight="bold" text-anchor="middle" fill="#000">Intratumoral IFN<tspan font-family='"Liberation Serif", "Times New Roman", serif' font-weight="normal">β</tspan> Levels After</text>
<text x="567.6" y="1990.7" font-family='"Liberation Sans", Arial, Helvetica, sans-serif' font-size="43.5" font-weight="bold" text-anchor="middle" fill="#000" xml:space="preserve">Intratumoral LNP-IFN<tspan font-family='"Liberation Serif", "Times New Roman", serif' font-weight="normal">β</tspan>  Delivery</text>
<text x="584.4" y="2081.4" font-family='"DejaVu Sans", "Liberation Sans", sans-serif' font-size="45" font-weight="bold" letter-spacing="4.9">****</text>
<text x="371.1" y="2176.8" font-family='"DejaVu Sans", "Liberation Sans", sans-serif' font-size="45" font-weight="bold" letter-spacing="4.9">****</text>
<text x="532.8" y="2176.8" font-family='"DejaVu Sans", "Liberation Sans", sans-serif' font-size="45" font-weight="bold" letter-spacing="4.9">***</text>
<path d="M497.7 2087.4H775.3M358 2183.7H488.4M506.4 2183.7H636.8" stroke="#000" stroke-width="4.6" fill="none"/>
<path d="M266.3 2203.2V2656.7M247.1 2656.7H870.8" stroke="#000" stroke-width="4.4" fill="none"/>
<path d="M247.1 2205H266.3M247.1 2355.6H266.3M247.1 2506.1H266.3" stroke="#000" stroke-width="3.8" fill="none"/>
<path d="M358.3 2656.7V2676M497.2 2656.7V2676M636.5 2656.7V2676M775.5 2656.7V2676" stroke="#000" stroke-width="4.8" fill="none"/>
<text x="241.3" y="2216.3" font-family='"Liberation Sans", Arial, Helvetica, sans-serif' font-size="34" font-weight="bold" text-anchor="end" fill="#000">1500</text>
<text x="241.3" y="2366.9" font-family='"Liberation Sans", Arial, Helvetica, sans-serif' font-size="34" font-weight="bold" text-anchor="end" fill="#000">1000</text>
<text x="241.3" y="2517.4" font-family='"Liberation Sans", Arial, Helvetica, sans-serif' font-size="34" font-weight="bold" text-anchor="end" fill="#000">500</text>
<text x="241.3" y="2668" font-family='"Liberation Sans", Arial, Helvetica, sans-serif' font-size="34" font-weight="bold" text-anchor="end" fill="#000">0</text>
<text x="358.7" y="2711.4" font-family='"Liberation Sans", Arial, Helvetica, sans-serif' font-size="34" font-weight="bold" text-anchor="middle" fill="#000">0hr</text>
<text x="497.5" y="2711.4" font-family='"Liberation Sans", Arial, Helvetica, sans-serif' font-size="34" font-weight="bold" text-anchor="middle" fill="#000">24hr</text>
<text x="636.5" y="2711.4" font-family='"Liberation Sans", Arial, Helvetica, sans-serif' font-size="34" font-weight="bold" text-anchor="middle" fill="#000">48hr</text>
<text x="775.3" y="2711.4" font-family='"Liberation Sans", Arial, Helvetica, sans-serif' font-size="34" font-weight="bold" text-anchor="middle" fill="#000">72hr</text>
<text x="567" y="2767.7" font-family='"Liberation Sans", Arial, Helvetica, sans-serif' font-size="37.5" font-weight="bold" text-anchor="middle" fill="#000">Time after LNP Delivery</text>
<text transform="translate(96.1 2659.2) rotate(-90)" font-family='"Liberation Sans", Arial, Helvetica, sans-serif' font-size="38" font-weight="bold">Local IFN<tspan font-family='"Liberation Serif", "Times New Roman", serif' font-weight="normal">β</tspan> Concentration</text>
<text transform="translate(142.5 2424.3) rotate(-90)" font-family='"Liberation Sans", Arial, Helvetica, sans-serif' font-size="38" font-weight="bold" text-anchor="middle">(pg/mg)</text>
<path d="M475.1 2237.2H520.2M497.2 2237.2V2257" stroke="#000" stroke-width="3" fill="none"/>
<path d="M613.5 2325.4H659.4M636.5 2325.4V2349" stroke="#000" stroke-width="3" fill="none"/>
<path d="M752.3 2581.8H798.3M775.5 2581.8V2594" stroke="#000" stroke-width="3" fill="none"/>
<path d="M335.6 2647.6H381.2M358.3 2647.6V2651" stroke="#000" stroke-width="2.4" fill="none"/>
<rect x="311.5" y="2648.8" width="93.5" height="8" fill="#000"/>
<rect x="454.6" y="2256.7" width="85.7" height="400" fill="#a2a2a6" stroke="#000" stroke-width="6.3"/>
<rect x="593.4" y="2348.5" width="86.2" height="308.2" fill="#808080" stroke="#000" stroke-width="6.3"/>
<rect x="732.4" y="2594" width="85.3" height="62.7" fill="#d3d3d3" stroke="#000" stroke-width="6.3"/>
<path d="M247.1 2656.7H870.8" stroke="#000" stroke-width="4.4" fill="none"/>
<text x="1459" y="1953.3" font-family='"Liberation Sans", Arial, Helvetica, sans-serif' font-size="44" font-weight="bold" text-anchor="middle" fill="#000">Systemic IFN<tspan font-family='"Liberation Serif", "Times New Roman", serif' font-weight="normal">β</tspan> levels</text>
<text x="1459" y="2007.6" font-family='"Liberation Sans", Arial, Helvetica, sans-serif' font-size="44" font-weight="bold" text-anchor="middle" fill="#000">following LNP-IFN<tspan font-family='"Liberation Serif", "Times New Roman", serif' font-weight="normal">β</tspan> delivery</text>
<text x="1451.8" y="2096.6" font-family='"DejaVu Sans", "Liberation Sans", sans-serif' font-size="50" font-weight="bold" letter-spacing="5">***</text>
<path d="M1426.6 2310V2104.5H1577.3V2136.3" stroke="#000" stroke-width="4.8" fill="none"/>
<path d="M1326 2090.3V2621.8M1303.3 2621.8H1680.5M1303.3 2092.9H1326M1303.3 2181H1326M1303.3 2269.1H1326M1303.3 2357.2H1326M1303.3 2445.3H1326M1303.3 2533.4H1326M1425.5 2621.8V2642.9M1577 2621.8V2642.9" stroke="#000" stroke-width="5.4" fill="none"/>
<text x="1233.7" y="2105.5" font-family='"Liberation Sans", Arial, Helvetica, sans-serif' font-size="39.5" font-weight="bold">10<tspan dx="4.2" dy="-12.2" font-size="27">6</tspan></text>
<text x="1233.7" y="2193.6" font-family='"Liberation Sans", Arial, Helvetica, sans-serif' font-size="39.5" font-weight="bold">10<tspan dx="4.2" dy="-12.2" font-size="27">5</tspan></text>
<text x="1233.7" y="2281.7" font-family='"Liberation Sans", Arial, Helvetica, sans-serif' font-size="39.5" font-weight="bold">10<tspan dx="4.2" dy="-12.2" font-size="27">4</tspan></text>
<text x="1233.7" y="2369.8" font-family='"Liberation Sans", Arial, Helvetica, sans-serif' font-size="39.5" font-weight="bold">10<tspan dx="4.2" dy="-12.2" font-size="27">3</tspan></text>
<text x="1233.7" y="2457.9" font-family='"Liberation Sans", Arial, Helvetica, sans-serif' font-size="39.5" font-weight="bold">10<tspan dx="4.2" dy="-12.2" font-size="27">2</tspan></text>
<text x="1233.7" y="2546" font-family='"Liberation Sans", Arial, Helvetica, sans-serif' font-size="39.5" font-weight="bold">10<tspan dx="4.2" dy="-12.2" font-size="27">1</tspan></text>
<text x="1233.7" y="2634.1" font-family='"Liberation Sans", Arial, Helvetica, sans-serif' font-size="39.5" font-weight="bold">10<tspan dx="4.2" dy="-12.2" font-size="27">0</tspan></text>
<text transform="translate(1205.2 2632) rotate(-90)" font-family='"Liberation Sans", Arial, Helvetica, sans-serif' font-size="36.5" stroke="#000" stroke-width="0.55" textLength="550" lengthAdjust="spacingAndGlyphs">IFNb blood concentration pg/ml</text>
<rect x="1380.4" y="2352.8" width="91.4" height="269" fill="#808080" stroke="#000" stroke-width="7.6"/>
<rect x="1530" y="2188.4" width="93.5" height="433.4" fill="#a3a3a7" stroke="#000" stroke-width="7.6"/>
<path d="M1303.3 2621.8H1680.5" stroke="#000" stroke-width="6" fill="none"/>
<path d="M1551.8 2179.4H1602.5M1577.4 2179.4V2188" stroke="#000" stroke-width="2.2" fill="none"/>
<g fill="#000"><circle cx="1383.6" cy="2352.6" r="8.2"/><circle cx="1405.1" cy="2342.5" r="8.2"/><circle cx="1426" cy="2352" r="8.2"/><circle cx="1447.3" cy="2343.7" r="8.2"/><circle cx="1469.1" cy="2352.6" r="8.2"/><circle cx="1556.2" cy="2167.4" r="8.2"/><circle cx="1577.4" cy="2168.6" r="8.2"/><circle cx="1598.4" cy="2167.4" r="8.2"/><circle cx="1534.7" cy="2205.4" r="8.2"/><circle cx="1556.2" cy="2198.4" r="8.2"/><circle cx="1577.4" cy="2201.6" r="8.2"/><circle cx="1598" cy="2198.4" r="8.2"/><circle cx="1620.2" cy="2206" r="8.2"/></g>
<text transform="translate(1437.4 2679.6) rotate(-45)" font-family='"Liberation Sans", Arial, Helvetica, sans-serif' font-size="39.5" font-weight="bold" text-anchor="end">IT Blood</text>
<text transform="translate(1589.4 2679.6) rotate(-45)" font-family='"Liberation Sans", Arial, Helvetica, sans-serif' font-size="39.5" font-weight="bold" text-anchor="end">IV Blood</text>
</svg>
</body>
</html>
